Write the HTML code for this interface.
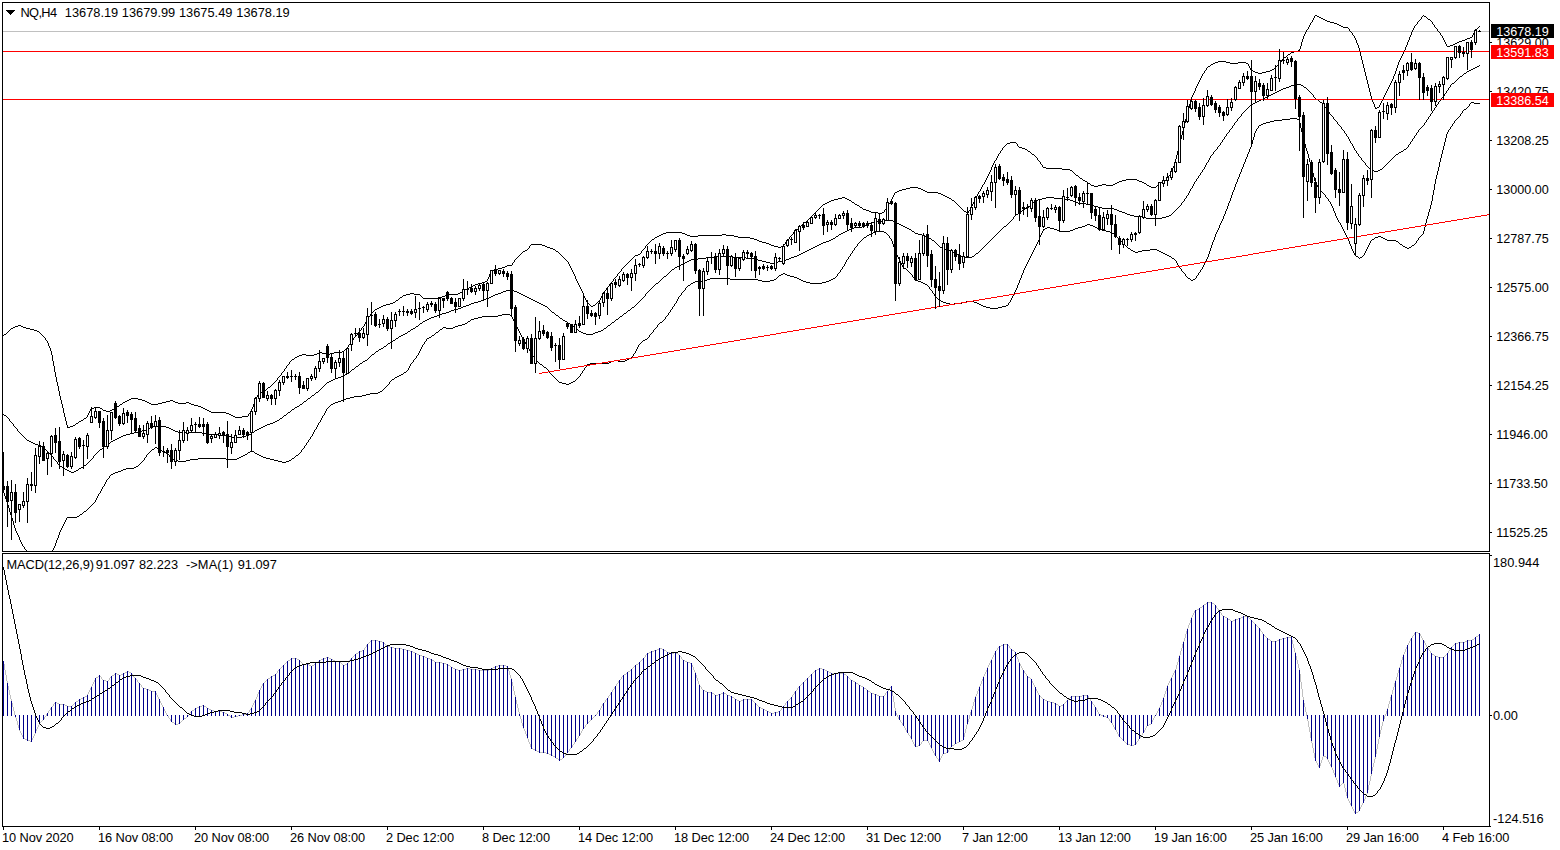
<!DOCTYPE html><html><head><meta charset="utf-8"><title>NQ,H4</title><style>
html,body{margin:0;padding:0;background:#fff;}body{width:1560px;height:850px;overflow:hidden;}
svg{display:block;position:absolute;left:0;top:0;}
text{font-family:"Liberation Sans",sans-serif;font-size:12.8px;fill:#000;}
.w{fill:#fff;}
</style></head><body>
<svg width="1560" height="850" viewBox="0 0 1560 850">
<rect width="1560" height="850" fill="#fff"/>
<g shape-rendering="crispEdges">
<defs><clipPath id="c1"><rect x="3" y="3" width="1486" height="548"/></clipPath><clipPath id="c2"><rect x="3" y="554" width="1486" height="272"/></clipPath></defs>
<g clip-path="url(#c1)">
<rect x="3" y="31" width="1486" height="1" fill="#c0c0c0"/>
<path fill="#000" d="M659 235h2v1h-2zM687 235h3v1h-3zM698 235h24v1h-24zM726 235h8v1h-8zM1251 70h2v1h-2zM1270 70h2v1h-2zM149 403h2v1h-2zM158 403h4v1h-4zM178 403h8v1h-8zM189 403h2v1h-2zM661 234h2v1h-2zM685 234h2v1h-2zM722 234h4v1h-4zM1211 64h2v1h-2zM1213 63h2v1h-2zM1230 63h8v1h-8zM1246 63h2v1h-2zM485 281h2v1h-2zM757 240h2v1h-2zM120 404h2v1h-2zM151 404h7v1h-7zM191 404h3v1h-3zM106 411h4v1h-4zM209 411h2v1h-2zM1459 41h3v1h-3zM262 391h2v1h-2zM831 200h3v1h-3zM849 200h2v1h-2zM952 200h2v1h-2zM545 246h2v1h-2zM774 246h4v1h-4zM781 246h2v1h-2zM381 306h2v1h-2zM591 306h2v1h-2zM375 309h2v1h-2zM938 193h3v1h-3zM1258 73h4v1h-4zM895 192h2v1h-2zM927 192h11v1h-11zM1343 27h5v1h-5zM1334 23h3v1h-3zM638 254h2v1h-2zM827 202h2v1h-2zM852 202h2v1h-2zM902 189h4v1h-4zM921 189h2v1h-2zM762 242h4v1h-4zM125 401h2v1h-2zM145 401h2v1h-2zM166 401h4v1h-4zM173 401h2v1h-2zM1028 151h2v1h-2zM1083 180h2v1h-2zM1122 180h4v1h-4zM1137 180h2v1h-2zM1164 180h2v1h-2zM1447 46h3v1h-3zM302 354h4v1h-4zM314 354h3v1h-3zM326 354h4v1h-4zM1337 24h2v1h-2zM1062 169h8v1h-8zM1088 183h2v1h-2zM1115 183h2v1h-2zM1144 183h2v1h-2zM1159 183h2v1h-2zM1457 42h2v1h-2zM103 410h3v1h-3zM110 410h2v1h-2zM207 410h2v1h-2zM423 298h15v1h-15zM15 326h3v1h-3zM21 326h2v1h-2zM342 351h2v1h-2zM377 308h2v1h-2zM406 294h4v1h-4zM414 294h6v1h-6zM447 294h11v1h-11zM1325 20h2v1h-2zM1070 170h2v1h-2zM666 232h16v1h-16zM871 212h7v1h-7zM882 212h2v1h-2zM1327 21h3v1h-3zM1091 185h3v1h-3zM1098 185h4v1h-4zM1106 185h7v1h-7zM1147 185h2v1h-2zM465 289h2v1h-2zM400 297h2v1h-2zM438 297h4v1h-4zM73 425h2v1h-2zM123 402h2v1h-2zM147 402h2v1h-2zM162 402h4v1h-4zM175 402h3v1h-3zM186 402h3v1h-3zM825 203h2v1h-2zM542 245h3v1h-3zM771 245h3v1h-3zM393 302h2v1h-2zM1046 168h16v1h-16zM319 352h3v1h-3zM334 352h8v1h-8zM18 325h3v1h-3zM460 292h2v1h-2zM866 210h3v1h-3zM112 409h2v1h-2zM205 409h2v1h-2zM1450 45h3v1h-3zM1323 19h2v1h-2zM1428 19h2v1h-2zM299 355h3v1h-3zM306 355h8v1h-8zM478 283h4v1h-4zM507 265h5v1h-5zM910 187h8v1h-8zM1151 187h5v1h-5zM1126 179h11v1h-11zM1019 147h3v1h-3zM403 295h3v1h-3zM445 295h2v1h-2zM1294 51h4v1h-4zM1319 17h2v1h-2zM860 207h2v1h-2zM91 408h3v1h-3zM100 408h2v1h-2zM203 408h2v1h-2zM235 417h7v1h-7zM1321 18h2v1h-2zM547 247h3v1h-3zM778 247h3v1h-3zM838 198h4v1h-4zM845 198h2v1h-2zM949 198h2v1h-2zM491 270h3v1h-3zM553 249h2v1h-2zM1330 22h4v1h-4zM317 353h2v1h-2zM322 353h4v1h-4zM330 353h4v1h-4zM1470 37h2v1h-2zM1315 15h2v1h-2zM383 305h3v1h-3zM593 305h2v1h-2zM1215 62h3v1h-3zM1226 62h4v1h-4zM1238 62h8v1h-8zM1022 148h3v1h-3zM505 266h2v1h-2zM1465 39h2v1h-2zM869 211h2v1h-2zM964 211h2v1h-2zM1341 26h2v1h-2zM471 286h2v1h-2zM906 188h4v1h-4zM918 188h3v1h-3zM494 269h4v1h-4zM37 331h2v1h-2zM1284 57h2v1h-2zM1291 52h3v1h-3zM531 244h11v1h-11zM769 244h2v1h-2zM127 400h2v1h-2zM142 400h3v1h-3zM170 400h3v1h-3zM943 195h2v1h-2zM1043 167h3v1h-3zM211 412h15v1h-15zM1272 69h2v1h-2zM502 267h3v1h-3zM463 290h2v1h-2zM657 236h2v1h-2zM690 236h8v1h-8zM734 236h4v1h-4zM1032 154h2v1h-2zM264 390h2v1h-2zM759 241h3v1h-3zM1094 186h4v1h-4zM1149 186h2v1h-2zM79 421h2v1h-2zM1085 181h2v1h-2zM1119 181h3v1h-3zM1139 181h3v1h-3zM467 288h2v1h-2zM297 356h2v1h-2zM1117 182h2v1h-2zM1142 182h2v1h-2zM1161 182h2v1h-2zM233 416h2v1h-2zM242 416h6v1h-6zM226 413h3v1h-3zM129 399h2v1h-2zM138 399h4v1h-4zM498 268h4v1h-4zM1467 38h3v1h-3zM117 406h2v1h-2zM198 406h3v1h-3zM1255 72h3v1h-3zM1262 72h4v1h-4zM1453 44h2v1h-2zM804 222h2v1h-2zM655 237h2v1h-2zM738 237h12v1h-12zM863 209h3v1h-3zM829 201h2v1h-2zM663 233h3v1h-3zM682 233h3v1h-3zM1339 25h2v1h-2zM1455 43h2v1h-2zM1080 178h2v1h-2zM834 199h4v1h-4zM847 199h2v1h-2zM635 255h3v1h-3zM1102 184h4v1h-4zM1113 184h2v1h-2zM231 415h2v1h-2zM941 194h2v1h-2zM1007 143h3v1h-3zM550 248h3v1h-3zM823 204h2v1h-2zM855 204h2v1h-2zM1218 61h8v1h-8zM442 296h3v1h-3zM70 426h3v1h-3zM1317 16h2v1h-2zM1424 16h2v1h-2zM1208 66h2v1h-2zM1377 107h2v1h-2zM482 282h3v1h-3zM1025 149h2v1h-2zM469 287h2v1h-2zM857 205h2v1h-2zM1298 50h2v1h-2zM268 387h2v1h-2zM842 197h3v1h-3zM947 197h2v1h-2zM1010 142h6v1h-6zM899 190h3v1h-3zM923 190h2v1h-2zM766 243h3v1h-3zM897 191h2v1h-2zM925 191h2v1h-2zM292 359h2v1h-2zM410 293h4v1h-4zM458 293h2v1h-2zM1253 71h2v1h-2zM1266 71h4v1h-4zM4 334h2v1h-2zM229 414h2v1h-2zM84 418h2v1h-2zM1375 108h2v1h-2zM945 196h2v1h-2zM67 427h3v1h-3zM131 398h7v1h-7zM30 329h4v1h-4zM94 407h6v1h-6zM115 407h2v1h-2zM201 407h2v1h-2zM1076 175h2v1h-2zM1462 40h3v1h-3zM13 327h2v1h-2zM23 327h3v1h-3zM525 250h2v1h-2zM878 213h4v1h-4zM194 405h4v1h-4zM386 304h4v1h-4zM796 229h2v1h-2zM475 284h3v1h-3zM76 423h2v1h-2zM523 251h2v1h-2zM556 251h2v1h-2zM390 303h3v1h-3zM379 307h2v1h-2zM34 330h3v1h-3zM396 300h2v1h-2zM259 392h3v1h-3zM1288 54h2v1h-2zM750 238h4v1h-4zM652 239h2v1h-2zM754 239h3v1h-3zM11 328h2v1h-2zM26 328h4v1h-4zM81 420h2v1h-2zM473 285h2v1h-2zM295 357h2v1h-2zM54 366h1v6h-1zM51 351h1v4h-1zM122 403h1v1h-1zM581 289h1v2h-1zM623 267h1v1h-1zM887 206h1v1h-1zM792 234h1v1h-1zM114 408h1v1h-1zM1421 17h1v2h-1zM795 230h1v1h-1zM1177 151h1v4h-1zM1388 87h1v2h-1zM1278 64h1v1h-1zM974 200h1v2h-1zM64 413h1v4h-1zM1190 100h1v4h-1zM1202 74h1v2h-1zM1362 60h1v4h-1zM266 389h1v1h-1zM1169 175h1v1h-1zM1275 67h1v1h-1zM355 336h1v1h-1zM289 362h1v2h-1zM40 333h1v1h-1zM1404 50h1v2h-1zM258 393h1v2h-1zM577 281h1v2h-1zM787 240h1v1h-1zM1302 39h1v3h-1zM994 161h1v2h-1zM1182 131h1v4h-1zM90 409h1v2h-1zM367 319h1v1h-1zM462 291h1v1h-1zM58 386h1v5h-1zM270 386h1v1h-1zM1006 144h1v1h-1zM63 408h1v5h-1zM60 396h1v4h-1zM569 264h1v2h-1zM1473 33h1v2h-1zM529 246h1v2h-1zM1003 147h1v1h-1zM1384 95h1v2h-1zM350 342h1v2h-1zM970 208h1v2h-1zM603 293h1v1h-1zM1396 68h1v3h-1zM1368 84h1v4h-1zM1442 36h1v2h-1zM56 377h1v5h-1zM998 154h1v2h-1zM1369 88h1v4h-1zM363 326h1v1h-1zM86 417h1v1h-1zM641 251h1v2h-1zM610 283h1v1h-1zM1181 135h1v4h-1zM78 422h1v1h-1zM1392 79h1v2h-1zM802 224h1v1h-1zM978 192h1v2h-1zM1395 71h1v3h-1zM1194 91h1v2h-1zM39 332h1v1h-1zM1314 16h1v2h-1zM250 411h1v2h-1zM799 227h1v1h-1zM1383 97h1v2h-1zM580 287h1v2h-1zM599 300h1v1h-1zM1399 60h1v2h-1zM520 254h1v1h-1zM890 201h1v2h-1zM358 332h1v1h-1zM1185 119h1v4h-1zM370 314h1v2h-1zM951 199h1v1h-1zM253 404h1v3h-1zM1017 144h1v2h-1zM562 256h1v1h-1zM1189 104h1v4h-1zM649 242h1v1h-1zM618 273h1v1h-1zM1358 45h1v3h-1zM818 209h1v1h-1zM1476 29h1v1h-1zM1156 186h1v1h-1zM1416 24h1v1h-1zM512 263h1v2h-1zM277 378h1v2h-1zM57 382h1v4h-1zM1310 23h1v2h-1zM1379 105h1v2h-1zM67 425h1v2h-1zM982 185h1v2h-1zM1407 42h1v3h-1zM1301 42h1v4h-1zM886 207h1v2h-1zM646 245h1v1h-1zM1365 72h1v4h-1zM1188 108h1v4h-1zM53 361h1v5h-1zM1173 166h1v2h-1zM1472 35h1v2h-1zM1412 30h1v2h-1zM986 178h1v2h-1zM806 221h1v1h-1zM1361 56h1v4h-1zM489 274h1v3h-1zM1306 30h1v2h-1zM1201 76h1v2h-1zM89 411h1v2h-1zM576 279h1v2h-1zM630 260h1v1h-1zM50 348h1v3h-1zM1371 96h1v3h-1zM1035 156h1v1h-1zM1419 20h1v1h-1zM1430 20h1v1h-1zM346 348h1v1h-1zM1184 123h1v4h-1zM1172 168h1v3h-1zM1036 157h1v1h-1zM1411 32h1v3h-1zM1431 21h1v1h-1zM997 156h1v2h-1zM1200 78h1v2h-1zM1175 159h1v4h-1zM606 288h1v2h-1zM1375 107h1v1h-1zM66 421h1v4h-1zM568 262h1v2h-1zM1394 74h1v2h-1zM59 391h1v5h-1zM1403 52h1v2h-1zM1193 93h1v2h-1zM894 193h1v2h-1zM1168 176h1v2h-1zM1180 139h1v4h-1zM1364 68h1v4h-1zM257 395h1v2h-1zM357 333h1v2h-1zM993 163h1v2h-1zM1196 86h1v2h-1zM366 320h1v2h-1zM958 205h1v1h-1zM1387 89h1v2h-1zM813 214h1v1h-1zM973 202h1v2h-1zM579 285h1v2h-1zM349 344h1v1h-1zM575 276h1v3h-1zM1179 143h1v4h-1zM1176 155h1v4h-1zM597 302h1v1h-1zM1434 25h1v2h-1zM280 375h1v1h-1zM992 165h1v2h-1zM609 284h1v2h-1zM969 210h1v1h-1zM586 300h1v2h-1zM515 259h1v1h-1zM52 355h1v6h-1zM1374 104h1v3h-1zM1357 43h1v2h-1zM1313 18h1v2h-1zM1398 62h1v3h-1zM488 277h1v2h-1zM625 265h1v1h-1zM985 180h1v2h-1zM583 293h1v3h-1zM1360 52h1v4h-1zM1350 31h1v1h-1zM1031 153h1v1h-1zM1277 65h1v1h-1zM617 274h1v2h-1zM1426 17h1v1h-1zM620 271h1v1h-1zM820 207h1v1h-1zM789 237h1v2h-1zM1300 46h1v3h-1zM1204 71h1v2h-1zM578 283h1v2h-1zM272 384h1v1h-1zM1427 18h1v1h-1zM981 187h1v2h-1zM1174 163h1v3h-1zM369 316h1v1h-1zM1005 145h1v1h-1zM3 335h1v1h-1zM645 246h1v2h-1zM1038 160h1v1h-1zM648 243h1v1h-1zM395 301h1v1h-1zM1187 112h1v3h-1zM1072 171h1v1h-1zM1475 30h1v1h-1zM55 372h1v5h-1zM1402 54h1v2h-1zM7 332h1v1h-1zM893 195h1v2h-1zM808 219h1v1h-1zM1000 151h1v2h-1zM1042 165h1v2h-1zM862 208h1v1h-1zM977 194h1v2h-1zM256 397h1v2h-1zM640 253h1v1h-1zM365 322h1v2h-1zM632 258h1v1h-1zM1382 99h1v2h-1zM1027 150h1v1h-1zM801 225h1v1h-1zM1349 29h1v2h-1zM1087 182h1v1h-1zM62 404h1v4h-1zM1183 127h1v4h-1zM348 345h1v2h-1zM1171 171h1v2h-1zM1090 184h1v1h-1zM889 203h1v1h-1zM1410 35h1v2h-1zM996 158h1v2h-1zM1367 80h1v4h-1zM651 240h1v1h-1zM1478 27h1v1h-1zM65 417h1v4h-1zM968 211h1v2h-1zM1370 92h1v4h-1zM1207 67h1v1h-1zM291 360h1v1h-1zM1393 76h1v3h-1zM1418 21h1v1h-1zM1192 95h1v2h-1zM41 334h1v1h-1zM61 400h1v4h-1zM1366 76h1v4h-1zM1432 22h1v2h-1zM399 298h1v1h-1zM1397 65h1v3h-1zM251 409h1v2h-1zM487 279h1v2h-1zM1409 37h1v3h-1zM1037 158h1v2h-1zM563 257h1v1h-1zM1195 88h1v3h-1zM1356 40h1v3h-1zM1386 91h1v2h-1zM1433 24h1v1h-1zM286 366h1v2h-1zM972 204h1v2h-1zM815 212h1v1h-1zM490 272h1v2h-1zM564 258h1v1h-1zM522 252h1v1h-1zM585 298h1v2h-1zM1178 147h1v4h-1zM88 413h1v2h-1zM1191 97h1v3h-1zM854 203h1v1h-1zM1373 102h1v2h-1zM1186 115h1v4h-1zM812 215h1v1h-1zM991 167h1v3h-1zM1363 64h1v4h-1zM1199 80h1v2h-1zM372 312h1v1h-1zM255 399h1v3h-1zM1082 179h1v1h-1zM1359 48h1v4h-1zM892 197h1v2h-1zM984 182h1v2h-1zM999 153h1v1h-1zM596 303h1v1h-1zM514 260h1v2h-1zM574 274h1v2h-1zM279 376h1v1h-1zM608 286h1v1h-1zM48 343h1v3h-1zM1381 101h1v2h-1zM1041 164h1v1h-1zM1279 63h1v1h-1zM643 249h1v1h-1zM1170 173h1v2h-1zM356 335h1v1h-1zM888 204h1v2h-1zM274 382h1v1h-1zM1348 28h1v1h-1zM995 160h1v1h-1zM584 296h1v2h-1zM1203 73h1v1h-1zM267 388h1v1h-1zM616 276h1v1h-1zM1352 33h1v2h-1zM1401 56h1v2h-1zM959 206h1v1h-1zM528 248h1v1h-1zM517 257h1v1h-1zM282 372h1v1h-1zM611 282h1v1h-1zM960 207h1v1h-1zM971 206h1v2h-1zM783 245h1v1h-1zM83 419h1v1h-1zM803 223h1v1h-1zM627 263h1v1h-1zM75 424h1v1h-1zM1040 162h1v2h-1zM573 272h1v2h-1zM624 266h1v1h-1zM87 415h1v2h-1zM1435 27h1v1h-1zM807 220h1v1h-1zM990 170h1v2h-1zM587 302h1v1h-1zM1436 28h1v1h-1zM822 205h1v1h-1zM1206 68h1v2h-1zM359 331h1v1h-1zM619 272h1v1h-1zM1372 99h1v3h-1zM570 266h1v2h-1zM1405 47h1v3h-1zM1417 22h1v2h-1zM791 235h1v1h-1zM102 409h1v1h-1zM1355 38h1v2h-1zM1249 66h1v2h-1zM1078 176h1v1h-1zM1198 82h1v2h-1zM1408 40h1v2h-1zM1309 25h1v2h-1zM1474 31h1v2h-1zM1477 28h1v1h-1zM285 368h1v1h-1zM351 341h1v1h-1zM9 330h1v1h-1zM786 241h1v1h-1zM1380 103h1v2h-1zM810 217h1v1h-1zM558 252h1v1h-1zM1002 148h1v2h-1zM1146 184h1v1h-1zM6 333h1v1h-1zM398 299h1v1h-1zM559 253h1v1h-1zM634 256h1v1h-1zM1446 44h1v2h-1zM1074 173h1v1h-1zM1282 59h1v1h-1zM1039 161h1v1h-1zM1305 32h1v2h-1zM43 336h1v1h-1zM1286 56h1v1h-1zM362 327h1v1h-1zM565 259h1v1h-1zM374 310h1v1h-1zM1400 58h1v2h-1zM254 402h1v2h-1zM47 341h1v2h-1zM891 199h1v2h-1zM966 212h1v1h-1zM566 260h1v1h-1zM1290 53h1v1h-1zM650 241h1v1h-1zM1351 32h1v1h-1zM622 268h1v1h-1zM1157 185h1v1h-1zM1354 36h1v2h-1zM1248 64h1v2h-1zM354 337h1v1h-1zM281 373h1v2h-1zM654 238h1v1h-1zM602 294h1v2h-1zM1210 65h1v1h-1zM1274 68h1v1h-1zM614 278h1v1h-1zM288 364h1v1h-1zM817 210h1v1h-1zM989 172h1v2h-1zM49 346h1v2h-1zM1073 172h1v1h-1zM1391 81h1v2h-1zM42 335h1v1h-1zM642 250h1v1h-1zM814 213h1v1h-1zM1438 31h1v1h-1zM420 295h1v1h-1zM1250 68h1v2h-1zM249 413h1v1h-1zM598 301h1v1h-1zM1420 19h1v1h-1zM347 347h1v1h-1zM519 255h1v1h-1zM1423 15h1v1h-1zM794 231h1v1h-1zM954 201h1v1h-1zM629 261h1v1h-1zM798 228h1v1h-1zM955 202h1v1h-1zM588 303h1v1h-1zM1415 25h1v1h-1zM345 349h1v1h-1zM1312 20h1v2h-1zM516 258h1v1h-1zM1281 60h1v2h-1zM1304 34h1v2h-1zM1197 84h1v2h-1zM859 206h1v1h-1zM1163 181h1v1h-1zM572 270h1v2h-1zM962 209h1v1h-1zM273 383h1v1h-1zM1437 29h1v2h-1zM1445 42h1v2h-1zM1167 178h1v1h-1zM1308 27h1v2h-1zM821 206h1v1h-1zM885 209h1v1h-1zM353 338h1v2h-1zM980 189h1v2h-1zM1205 70h1v1h-1zM601 296h1v2h-1zM613 279h1v2h-1zM284 369h1v2h-1zM1079 177h1v1h-1zM527 249h1v1h-1zM582 291h1v2h-1zM590 305h1v1h-1zM1390 83h1v2h-1zM976 196h1v2h-1zM626 264h1v1h-1zM809 218h1v1h-1zM605 290h1v1h-1zM1001 150h1v1h-1zM361 328h1v2h-1zM364 324h1v2h-1zM276 380h1v1h-1zM119 405h1v1h-1zM1406 45h1v2h-1zM961 208h1v1h-1zM248 414h1v2h-1zM621 269h1v2h-1zM1479 26h1v1h-1zM793 232h1v2h-1zM571 268h1v2h-1zM1016 143h1v1h-1zM45 338h1v2h-1zM561 255h1v1h-1zM790 236h1v1h-1zM1444 40h1v2h-1zM46 340h1v1h-1zM1276 66h1v1h-1zM252 407h1v2h-1zM785 242h1v2h-1zM1414 26h1v2h-1zM988 174h1v2h-1zM788 239h1v1h-1zM1353 35h1v1h-1zM8 331h1v1h-1zM589 304h1v1h-1zM1004 146h1v1h-1zM530 245h1v1h-1zM1385 93h1v2h-1zM644 248h1v1h-1zM633 257h1v1h-1zM851 201h1v1h-1zM1034 155h1v1h-1zM373 311h1v1h-1zM800 226h1v1h-1zM1075 174h1v1h-1zM1303 36h1v3h-1zM44 337h1v1h-1zM368 317h1v2h-1zM1440 33h1v2h-1zM271 385h1v1h-1zM1441 35h1v1h-1zM975 198h1v2h-1zM819 208h1v1h-1zM604 291h1v2h-1zM287 365h1v1h-1zM816 211h1v1h-1zM491 271h1v1h-1zM884 210h1v2h-1zM957 204h1v1h-1zM560 254h1v1h-1zM402 296h1v1h-1zM600 298h1v2h-1zM521 253h1v1h-1zM1413 28h1v2h-1zM987 176h1v2h-1zM1443 38h1v2h-1zM1422 16h1v1h-1zM352 340h1v1h-1zM1389 85h1v2h-1zM628 262h1v1h-1zM1299 49h1v1h-1zM1439 32h1v1h-1zM421 296h1v1h-1zM967 213h1v1h-1zM567 261h1v1h-1zM518 256h1v1h-1zM290 361h1v1h-1zM344 350h1v1h-1zM422 297h1v1h-1zM371 313h1v1h-1zM1280 62h1v1h-1zM983 184h1v1h-1zM294 358h1v1h-1zM1283 58h1v1h-1zM647 244h1v1h-1zM513 262h1v1h-1zM275 381h1v1h-1zM956 203h1v1h-1zM1030 152h1v1h-1zM360 330h1v1h-1zM1166 179h1v1h-1zM631 259h1v1h-1zM1158 184h1v1h-1zM979 191h1v1h-1zM10 329h1v1h-1zM811 216h1v1h-1zM963 210h1v1h-1zM1018 146h1v1h-1zM1307 29h1v1h-1zM283 371h1v1h-1zM612 281h1v1h-1zM615 277h1v1h-1zM784 244h1v1h-1zM555 250h1v1h-1zM595 304h1v1h-1zM278 377h1v1h-1zM607 287h1v1h-1zM1311 22h1v1h-1zM1287 55h1v1h-1z"/>
<path fill="#000" d="M29 441h2v1h-2zM111 441h2v1h-2zM1371 170h3v1h-3zM1378 170h2v1h-2zM119 437h2v1h-2zM231 437h11v1h-11zM501 292h2v1h-2zM517 292h2v1h-2zM1257 101h2v1h-2zM685 262h2v1h-2zM766 262h4v1h-4zM774 262h4v1h-4zM839 234h2v1h-2zM918 234h4v1h-4zM469 304h2v1h-2zM541 304h2v1h-2zM1028 206h2v1h-2zM1094 206h4v1h-4zM1255 102h2v1h-2zM1320 102h2v1h-2zM495 294h3v1h-3zM521 294h2v1h-2zM4 415h2v1h-2zM284 415h2v1h-2zM427 319h2v1h-2zM616 319h2v1h-2zM874 221h8v1h-8zM893 221h2v1h-2zM151 426h15v1h-15zM263 426h2v1h-2zM454 309h4v1h-4zM1125 213h2v1h-2zM126 434h4v1h-4zM206 434h12v1h-12zM249 434h2v1h-2zM423 321h2v1h-2zM565 321h2v1h-2zM1098 207h4v1h-4zM813 247h2v1h-2zM940 247h2v1h-2zM831 239h2v1h-2zM1374 171h4v1h-4zM922 235h3v1h-3zM811 248h2v1h-2zM854 227h8v1h-8zM905 227h2v1h-2zM506 290h8v1h-8zM1396 154h2v1h-2zM809 249h2v1h-2zM943 249h3v1h-3zM1142 217h4v1h-4zM1162 217h4v1h-4zM267 424h3v1h-3zM714 256h16v1h-16zM794 256h3v1h-3zM961 256h2v1h-2zM972 256h2v1h-2zM847 230h2v1h-2zM1046 197h8v1h-8zM1265 97h2v1h-2zM292 409h2v1h-2zM498 293h3v1h-3zM519 293h2v1h-2zM411 329h2v1h-2zM576 329h2v1h-2zM1130 215h4v1h-4zM1169 215h2v1h-2zM683 263h2v1h-2zM770 263h4v1h-4zM1263 98h2v1h-2zM1294 84h7v1h-7zM851 228h3v1h-3zM907 228h2v1h-2zM675 267h2v1h-2zM356 366h2v1h-2zM1075 202h3v1h-3zM1038 199h4v1h-4zM1062 199h8v1h-8zM413 328h2v1h-2zM604 328h2v1h-2zM867 224h2v1h-2zM899 224h2v1h-2zM689 260h2v1h-2zM758 260h4v1h-4zM782 260h4v1h-4zM503 291h3v1h-3zM514 291h3v1h-3zM1283 88h3v1h-3zM803 252h2v1h-2zM953 252h2v1h-2zM1469 70h2v1h-2zM819 244h2v1h-2zM1134 216h8v1h-8zM1166 216h3v1h-3zM277 420h2v1h-2zM817 245h2v1h-2zM60 466h2v1h-2zM316 392h2v1h-2zM391 341h2v1h-2zM134 432h4v1h-4zM178 432h24v1h-24zM252 432h2v1h-2zM341 376h2v1h-2zM403 334h2v1h-2zM586 334h7v1h-7zM148 428h2v1h-2zM169 428h2v1h-2zM259 428h2v1h-2zM121 436h2v1h-2zM229 436h2v1h-2zM242 436h4v1h-4zM801 253h2v1h-2zM955 253h2v1h-2zM976 253h2v1h-2zM434 316h3v1h-3zM620 316h2v1h-2zM687 261h2v1h-2zM762 261h4v1h-4zM778 261h4v1h-4zM1035 200h3v1h-3zM1070 200h3v1h-3zM142 430h4v1h-4zM173 430h2v1h-2zM255 430h2v1h-2zM612 322h2v1h-2zM698 258h8v1h-8zM746 258h8v1h-8zM789 258h2v1h-2zM1286 87h3v1h-3zM1304 87h2v1h-2zM1020 211h2v1h-2zM1119 211h3v1h-3zM1404 149h2v1h-2zM1289 86h2v1h-2zM1253 103h2v1h-2zM372 354h2v1h-2zM275 421h2v1h-2zM1025 208h2v1h-2zM1102 208h12v1h-12zM446 312h3v1h-3zM552 312h2v1h-2zM115 439h2v1h-2zM474 302h4v1h-4zM537 302h2v1h-2zM27 440h2v1h-2zM113 440h2v1h-2zM797 255h2v1h-2zM959 255h2v1h-2zM1267 96h2v1h-2zM1146 218h16v1h-16zM821 243h2v1h-2zM463 306h3v1h-3zM545 306h2v1h-2zM706 257h8v1h-8zM730 257h16v1h-16zM791 257h3v1h-3zM963 257h9v1h-9zM1122 212h3v1h-3zM1477 66h2v1h-2zM300 404h2v1h-2zM841 233h2v1h-2zM915 233h3v1h-3zM481 300h2v1h-2zM533 300h2v1h-2zM927 237h2v1h-2zM1042 198h4v1h-4zM1054 198h8v1h-8zM273 422h2v1h-2zM1273 93h2v1h-2zM833 238h2v1h-2zM929 238h2v1h-2zM429 318h2v1h-2zM560 318h2v1h-2zM138 431h4v1h-4zM175 431h3v1h-3zM466 305h3v1h-3zM543 305h2v1h-2zM1460 76h2v1h-2zM1086 204h4v1h-4zM308 398h2v1h-2zM1073 201h2v1h-2zM146 429h2v1h-2zM171 429h2v1h-2zM257 429h2v1h-2zM882 220h11v1h-11zM100 449h2v1h-2zM805 251h2v1h-2zM950 251h3v1h-3zM489 297h2v1h-2zM527 297h2v1h-2zM71 472h3v1h-3zM65 469h2v1h-2zM67 470h2v1h-2zM76 470h2v1h-2zM33 443h2v1h-2zM108 443h2v1h-2zM408 331h2v1h-2zM579 331h2v1h-2zM598 331h3v1h-3zM123 435h3v1h-3zM218 435h11v1h-11zM246 435h3v1h-3zM672 269h2v1h-2zM1117 210h2v1h-2zM483 299h3v1h-3zM531 299h2v1h-2zM1281 89h2v1h-2zM601 330h2v1h-2zM1471 69h2v1h-2zM691 259h7v1h-7zM754 259h4v1h-4zM786 259h3v1h-3zM862 226h3v1h-3zM903 226h2v1h-2zM1004 226h2v1h-2zM388 343h2v1h-2zM845 231h2v1h-2zM912 231h2v1h-2zM826 241h3v1h-3zM486 298h3v1h-3zM529 298h2v1h-2zM461 307h2v1h-2zM632 307h2v1h-2zM63 468h2v1h-2zM79 468h2v1h-2zM865 225h2v1h-2zM901 225h2v1h-2zM338 377h3v1h-3zM478 301h3v1h-3zM535 301h2v1h-2zM1261 99h2v1h-2zM1316 99h2v1h-2zM363 361h2v1h-2zM799 254h2v1h-2zM957 254h2v1h-2zM1259 100h2v1h-2zM431 317h3v1h-3zM420 323h2v1h-2zM568 323h2v1h-2zM166 427h3v1h-3zM261 427h2v1h-2zM329 381h2v1h-2zM1251 104h2v1h-2zM869 223h2v1h-2zM897 223h2v1h-2zM1275 92h2v1h-2zM1271 94h2v1h-2zM379 349h2v1h-2zM84 465h2v1h-2zM265 425h2v1h-2zM1291 85h3v1h-3zM1301 85h2v1h-2zM381 348h2v1h-2zM405 333h2v1h-2zM583 333h3v1h-3zM593 333h2v1h-2zM849 229h2v1h-2zM909 229h2v1h-2zM1380 169h2v1h-2zM442 313h4v1h-4zM624 313h2v1h-2zM1277 91h2v1h-2zM829 240h2v1h-2zM932 240h2v1h-2zM1467 71h2v1h-2zM1090 205h4v1h-4zM288 412h2v1h-2zM581 332h2v1h-2zM595 332h3v1h-3zM130 433h4v1h-4zM202 433h4v1h-4zM807 250h2v1h-2zM946 250h4v1h-4zM69 471h2v1h-2zM74 471h2v1h-2zM437 315h2v1h-2zM556 315h2v1h-2zM608 325h2v1h-2zM399 336h2v1h-2zM1016 214h2v1h-2zM1127 214h3v1h-3zM117 438h2v1h-2zM1399 152h2v1h-2zM1279 90h2v1h-2zM681 264h2v1h-2zM449 311h2v1h-2zM1023 209h2v1h-2zM1114 209h3v1h-3zM280 418h2v1h-2zM843 232h2v1h-2zM1078 203h8v1h-8zM31 442h2v1h-2zM836 236h2v1h-2zM925 236h2v1h-2zM664 276h2v1h-2zM312 395h2v1h-2zM81 467h2v1h-2zM1401 151h2v1h-2zM815 246h2v1h-2zM365 360h2v1h-2zM1452 83h2v1h-2zM396 338h2v1h-2zM295 407h2v1h-2zM656 283h2v1h-2zM425 320h2v1h-2zM563 320h2v1h-2zM41 446h2v1h-2zM104 446h2v1h-2zM348 372h2v1h-2zM270 423h3v1h-3zM35 444h3v1h-3zM493 295h2v1h-2zM523 295h2v1h-2zM471 303h3v1h-3zM539 303h2v1h-2zM304 401h2v1h-2zM491 296h2v1h-2zM525 296h2v1h-2zM439 314h3v1h-3zM335 378h3v1h-3zM416 326h2v1h-2zM572 326h2v1h-2zM451 310h3v1h-3zM628 310h2v1h-2zM38 445h3v1h-3zM393 340h2v1h-2zM1269 95h2v1h-2zM679 265h2v1h-2zM297 406h2v1h-2zM345 374h2v1h-2zM458 308h3v1h-3zM401 335h2v1h-2zM871 222h3v1h-3zM895 222h2v1h-2zM1473 68h2v1h-2zM1475 67h2v1h-2zM376 351h2v1h-2zM333 379h2v1h-2zM352 369h2v1h-2zM360 363h2v1h-2zM384 346h2v1h-2zM327 382h2v1h-2zM1464 73h2v1h-2zM823 242h3v1h-3zM677 266h2v1h-2zM343 375h2v1h-2zM331 380h2v1h-2zM549 309h1v1h-1zM1012 219h1v1h-1zM1192 186h1v2h-1zM550 310h1v1h-1zM660 280h1v1h-1zM1386 164h1v1h-1zM606 327h1v1h-1zM51 455h1v1h-1zM1429 116h1v1h-1zM1319 101h1v1h-1zM1348 137h1v2h-1zM996 234h1v1h-1zM610 324h1v1h-1zM1179 206h1v1h-1zM311 396h1v1h-1zM1247 108h1v1h-1zM315 393h1v1h-1zM347 373h1v1h-1zM1326 108h1v2h-1zM370 356h1v1h-1zM645 294h1v2h-1zM25 438h1v1h-1zM648 291h1v1h-1zM93 456h1v2h-1zM319 390h1v1h-1zM984 246h1v1h-1zM407 332h1v1h-1zM1034 201h1v1h-1zM17 429h1v2h-1zM419 324h1v1h-1zM1337 122h1v2h-1zM1393 157h1v1h-1zM1027 207h1v1h-1zM1239 117h1v1h-1zM931 239h1v1h-1zM942 248h1v1h-1zM1432 111h1v2h-1zM1003 227h1v1h-1zM614 321h1v1h-1zM1417 132h1v1h-1zM1363 161h1v1h-1zM1441 98h1v2h-1zM1444 94h1v2h-1zM1210 156h1v2h-1zM24 437h1v1h-1zM3 414h1v1h-1zM1199 175h1v1h-1zM1222 140h1v2h-1zM322 387h1v1h-1zM1412 139h1v2h-1zM1234 123h1v2h-1zM1329 112h1v2h-1zM1308 90h1v1h-1zM1436 105h1v2h-1zM1370 169h1v1h-1zM1439 101h1v1h-1zM1191 188h1v1h-1zM1000 230h1v1h-1zM578 330h1v1h-1zM1448 88h1v2h-1zM1330 114h1v1h-1zM1314 97h1v1h-1zM1451 84h1v1h-1zM991 239h1v1h-1zM1206 163h1v2h-1zM1015 215h1v1h-1zM10 421h1v1h-1zM1315 98h1v1h-1zM1245 110h1v1h-1zM395 339h1v1h-1zM1019 212h1v1h-1zM1195 181h1v1h-1zM1242 113h1v1h-1zM671 270h1v1h-1zM1408 145h1v2h-1zM88 462h1v1h-1zM1187 195h1v1h-1zM1031 204h1v1h-1zM988 242h1v1h-1zM47 451h1v1h-1zM1341 127h1v2h-1zM640 300h1v1h-1zM1202 170h1v2h-1zM1362 160h1v1h-1zM1182 202h1v1h-1zM979 251h1v1h-1zM1307 89h1v1h-1zM54 459h1v1h-1zM1007 224h1v1h-1zM1388 162h1v1h-1zM1455 81h1v1h-1zM937 244h1v1h-1zM9 419h1v2h-1zM326 383h1v1h-1zM938 245h1v1h-1zM368 358h1v1h-1zM1174 211h1v1h-1zM1479 65h1v1h-1zM1428 117h1v2h-1zM302 403h1v1h-1zM294 408h1v1h-1zM1171 214h1v1h-1zM1218 146h1v1h-1zM1198 176h1v2h-1zM306 400h1v1h-1zM1411 141h1v1h-1zM1230 129h1v1h-1zM995 235h1v1h-1zM1233 125h1v1h-1zM1420 128h1v1h-1zM150 427h1v1h-1zM1340 126h1v1h-1zM555 314h1v1h-1zM279 419h1v1h-1zM1361 158h1v2h-1zM574 327h1v1h-1zM1435 107h1v1h-1zM310 397h1v1h-1zM1213 152h1v2h-1zM1447 90h1v1h-1zM1205 165h1v2h-1zM251 433h1v1h-1zM666 275h1v1h-1zM655 284h1v1h-1zM627 311h1v1h-1zM983 247h1v1h-1zM1328 111h1v1h-1zM1241 114h1v2h-1zM1466 72h1v1h-1zM659 281h1v1h-1zM1209 158h1v2h-1zM998 232h1v1h-1zM1221 142h1v1h-1zM46 450h1v1h-1zM1181 203h1v2h-1zM1339 125h1v1h-1zM19 432h1v1h-1zM1249 106h1v1h-1zM102 448h1v1h-1zM1459 77h1v1h-1zM1303 86h1v1h-1zM551 311h1v1h-1zM570 324h1v1h-1zM1383 167h1v1h-1zM835 237h1v1h-1zM1354 148h1v2h-1zM1450 85h1v2h-1zM20 433h1v1h-1zM106 445h1v1h-1zM283 416h1v1h-1zM95 454h1v1h-1zM1188 193h1v2h-1zM1365 163h1v2h-1zM986 244h1v1h-1zM53 457h1v2h-1zM26 439h1v1h-1zM57 462h1v2h-1zM90 460h1v1h-1zM8 418h1v1h-1zM1033 202h1v1h-1zM1403 150h1v1h-1zM631 308h1v1h-1zM1395 155h1v1h-1zM410 330h1v1h-1zM1014 216h1v1h-1zM1184 199h1v2h-1zM1217 147h1v2h-1zM635 305h1v1h-1zM83 466h1v1h-1zM1407 147h1v1h-1zM1229 130h1v2h-1zM914 232h1v1h-1zM670 271h1v1h-1zM1431 113h1v1h-1zM87 463h1v1h-1zM1224 137h1v2h-1zM974 255h1v1h-1zM1009 222h1v1h-1zM1443 96h1v1h-1zM1212 154h1v1h-1zM1236 121h1v1h-1zM650 289h1v1h-1zM1201 172h1v1h-1zM321 388h1v1h-1zM978 252h1v1h-1zM1414 136h1v2h-1zM1342 129h1v1h-1zM1350 141h1v2h-1zM1002 228h1v1h-1zM110 442h1v1h-1zM1438 102h1v2h-1zM1343 130h1v1h-1zM993 237h1v1h-1zM1364 162h1v1h-1zM603 329h1v1h-1zM351 370h1v1h-1zM1208 160h1v2h-1zM374 353h1v1h-1zM1244 111h1v1h-1zM1454 82h1v1h-1zM1309 91h1v1h-1zM56 461h1v1h-1zM1410 142h1v2h-1zM355 367h1v1h-1zM386 345h1v1h-1zM418 325h1v1h-1zM1422 126h1v1h-1zM1425 122h1v1h-1zM990 240h1v1h-1zM1331 115h1v1h-1zM378 350h1v1h-1zM367 359h1v1h-1zM398 337h1v1h-1zM1434 108h1v2h-1zM642 298h1v1h-1zM359 364h1v1h-1zM390 342h1v1h-1zM981 249h1v1h-1zM1446 91h1v2h-1zM11 422h1v1h-1zM1332 116h1v1h-1zM1204 167h1v2h-1zM562 319h1v1h-1zM618 318h1v1h-1zM1390 160h1v1h-1zM1346 134h1v2h-1zM1176 209h1v1h-1zM1457 79h1v1h-1zM55 460h1v1h-1zM661 279h1v1h-1zM622 315h1v1h-1zM607 326h1v1h-1zM654 285h1v1h-1zM1173 212h1v1h-1zM1220 143h1v2h-1zM1232 126h1v2h-1zM997 233h1v1h-1zM1200 173h1v2h-1zM97 452h1v1h-1zM1413 138h1v1h-1zM1215 150h1v1h-1zM1227 133h1v1h-1zM48 452h1v1h-1zM668 273h1v1h-1zM1353 146h1v2h-1zM985 245h1v1h-1zM637 303h1v1h-1zM1349 139h1v2h-1zM575 328h1v1h-1zM626 312h1v1h-1zM254 431h1v1h-1zM22 435h1v1h-1zM1367 166h1v1h-1zM89 461h1v1h-1zM630 309h1v1h-1zM1180 205h1v1h-1zM323 386h1v1h-1zM1333 117h1v2h-1zM1385 165h1v1h-1zM939 246h1v1h-1zM62 467h1v1h-1zM1334 119h1v1h-1zM1008 223h1v1h-1zM14 426h1v1h-1zM1356 151h1v2h-1zM649 290h1v1h-1zM1437 104h1v1h-1zM1246 109h1v1h-1zM1449 87h1v1h-1zM92 458h1v1h-1zM314 394h1v1h-1zM1352 144h1v2h-1zM992 238h1v1h-1zM21 434h1v1h-1zM369 357h1v1h-1zM644 296h1v1h-1zM1345 133h1v1h-1zM1366 165h1v1h-1zM350 371h1v1h-1zM1183 201h1v1h-1zM1409 144h1v1h-1zM1011 220h1v1h-1zM1421 127h1v1h-1zM1223 139h1v1h-1zM652 287h1v1h-1zM1226 134h1v2h-1zM1392 158h1v1h-1zM1416 133h1v2h-1zM1235 122h1v1h-1zM980 250h1v1h-1zM1238 118h1v1h-1zM1382 168h1v1h-1zM1440 100h1v1h-1zM1463 74h1v1h-1zM571 325h1v1h-1zM1344 131h1v2h-1zM1355 150h1v1h-1zM1175 210h1v1h-1zM287 413h1v1h-1zM1456 80h1v1h-1zM999 231h1v1h-1zM299 405h1v1h-1zM1359 156h1v1h-1zM1424 123h1v2h-1zM291 410h1v1h-1zM354 368h1v1h-1zM58 464h1v1h-1zM303 402h1v1h-1zM1322 103h1v1h-1zM1194 182h1v2h-1zM1250 105h1v1h-1zM1186 196h1v2h-1zM1018 213h1v1h-1zM13 424h1v2h-1zM1030 205h1v1h-1zM43 447h1v1h-1zM987 243h1v1h-1zM1178 207h1v1h-1zM674 268h1v1h-1zM1211 155h1v1h-1zM1214 151h1v1h-1zM663 277h1v1h-1zM1190 189h1v2h-1zM1389 161h1v1h-1zM1358 154h1v2h-1zM667 274h1v1h-1zM1351 143h1v1h-1zM1006 225h1v1h-1zM647 292h1v1h-1zM318 391h1v1h-1zM1347 136h1v1h-1zM99 450h1v1h-1zM934 241h1v1h-1zM1310 92h1v1h-1zM1022 210h1v1h-1zM422 322h1v1h-1zM6 416h1v1h-1zM567 322h1v1h-1zM1311 93h1v1h-1zM911 230h1v1h-1zM548 308h1v1h-1zM12 423h1v1h-1zM1419 129h1v1h-1zM639 301h1v1h-1zM415 327h1v1h-1zM636 304h1v1h-1zM1318 100h1v1h-1zM49 453h1v1h-1zM1013 217h1v2h-1zM1193 184h1v2h-1zM325 384h1v1h-1zM50 454h1v1h-1zM611 323h1v1h-1zM1237 119h1v2h-1zM1387 163h1v1h-1zM1427 119h1v1h-1zM1430 114h1v2h-1zM103 447h1v1h-1zM658 282h1v1h-1zM23 436h1v1h-1zM1384 166h1v1h-1zM615 320h1v1h-1zM975 254h1v1h-1zM1197 178h1v1h-1zM1368 167h1v1h-1zM1325 107h1v1h-1zM107 444h1v1h-1zM96 453h1v1h-1zM651 288h1v1h-1zM1189 191h1v2h-1zM547 307h1v1h-1zM1369 168h1v1h-1zM558 316h1v1h-1zM1248 107h1v1h-1zM994 236h1v1h-1zM559 317h1v1h-1zM371 355h1v1h-1zM282 417h1v1h-1zM1335 120h1v1h-1zM91 459h1v1h-1zM94 455h1v1h-1zM838 235h1v1h-1zM383 347h1v1h-1zM1336 121h1v1h-1zM286 414h1v1h-1zM1357 153h1v1h-1zM16 428h1v1h-1zM1423 125h1v1h-1zM1394 156h1v1h-1zM1010 221h1v1h-1zM982 248h1v1h-1zM634 306h1v1h-1zM1406 148h1v1h-1zM619 317h1v1h-1zM1225 136h1v1h-1zM1324 105h1v2h-1zM1415 135h1v1h-1zM1418 130h1v2h-1zM1313 95h1v2h-1zM623 314h1v1h-1zM1442 97h1v1h-1zM1177 208h1v1h-1zM320 389h1v1h-1zM1458 78h1v1h-1zM15 427h1v1h-1zM1001 229h1v1h-1zM375 352h1v1h-1zM387 344h1v1h-1zM1426 120h1v2h-1zM290 411h1v1h-1zM643 297h1v1h-1zM646 293h1v1h-1zM1216 149h1v1h-1zM1240 116h1v1h-1zM1196 179h1v2h-1zM1243 112h1v1h-1zM1185 198h1v1h-1zM1398 153h1v1h-1zM1032 203h1v1h-1zM1306 88h1v1h-1zM554 313h1v1h-1zM989 241h1v1h-1zM669 272h1v1h-1zM86 464h1v1h-1zM641 299h1v1h-1zM78 469h1v1h-1zM59 465h1v1h-1zM1391 159h1v1h-1zM1323 104h1v1h-1zM662 278h1v1h-1zM1312 94h1v1h-1zM1462 75h1v1h-1zM44 448h1v1h-1zM45 449h1v1h-1zM1338 124h1v1h-1zM18 431h1v1h-1zM98 451h1v1h-1zM653 286h1v1h-1zM324 385h1v1h-1zM1360 157h1v1h-1zM1207 162h1v1h-1zM1172 213h1v1h-1zM1219 145h1v1h-1zM358 365h1v1h-1zM1228 132h1v1h-1zM307 399h1v1h-1zM1231 128h1v1h-1zM52 456h1v1h-1zM362 362h1v1h-1zM1433 110h1v1h-1zM935 242h1v1h-1zM1327 110h1v1h-1zM1445 93h1v1h-1zM638 302h1v1h-1zM936 243h1v1h-1zM1203 169h1v1h-1zM7 417h1v1h-1z"/>
<path fill="#000" d="M1405 247h2v1h-2zM1409 247h2v1h-2zM1047 227h3v1h-3zM1078 227h4v1h-4zM1095 227h2v1h-2zM1082 226h3v1h-3zM1093 226h2v1h-2zM1045 228h2v1h-2zM1050 228h4v1h-4zM1075 228h3v1h-3zM1097 228h2v1h-2zM1387 240h9v1h-9zM354 396h8v1h-8zM241 456h2v1h-2zM261 456h2v1h-2zM540 364h2v1h-2zM587 364h3v1h-3zM790 276h4v1h-4zM875 231h9v1h-9zM1059 231h11v1h-11zM1106 231h4v1h-4zM869 234h2v1h-2zM925 284h2v1h-2zM84 511h2v1h-2zM173 459h2v1h-2zM190 459h8v1h-8zM226 459h11v1h-11zM270 459h4v1h-4zM710 278h20v1h-20zM797 278h2v1h-2zM833 278h2v1h-2zM1188 278h2v1h-2zM178 461h8v1h-8zM278 461h4v1h-4zM286 461h3v1h-3zM1474 103h6v1h-6zM502 314h8v1h-8zM943 302h3v1h-3zM962 302h4v1h-4zM974 302h3v1h-3zM1131 250h2v1h-2zM1142 250h8v1h-8zM1157 250h2v1h-2zM462 324h3v1h-3zM695 281h10v1h-10zM762 281h8v1h-8zM803 281h3v1h-3zM826 281h3v1h-3zM918 281h3v1h-3zM465 323h2v1h-2zM175 460h3v1h-3zM186 460h4v1h-4zM274 460h4v1h-4zM289 460h2v1h-2zM27 552h3v1h-3zM629 358h2v1h-2zM458 325h4v1h-4zM707 279h3v1h-3zM730 279h28v1h-28zM774 279h2v1h-2zM799 279h2v1h-2zM831 279h2v1h-2zM1193 279h2v1h-2zM163 452h3v1h-3zM248 452h2v1h-2zM614 360h4v1h-4zM625 360h2v1h-2zM781 274h2v1h-2zM785 274h2v1h-2zM446 328h7v1h-7zM126 468h8v1h-8zM1135 252h3v1h-3zM1161 252h2v1h-2zM1167 255h2v1h-2zM440 329h2v1h-2zM245 454h2v1h-2zM257 454h2v1h-2zM1169 256h2v1h-2zM1356 256h2v1h-2zM171 458h2v1h-2zM198 458h28v1h-28zM237 458h2v1h-2zM266 458h4v1h-4zM292 458h2v1h-2zM590 363h19v1h-19zM1163 253h2v1h-2zM1087 224h3v1h-3zM950 304h4v1h-4zM979 304h2v1h-2zM643 340h2v1h-2zM239 457h2v1h-2zM263 457h3v1h-3zM482 316h16v1h-16zM166 453h2v1h-2zM255 453h2v1h-2zM1150 249h7v1h-7zM562 383h4v1h-4zM569 383h2v1h-2zM455 326h3v1h-3zM243 455h2v1h-2zM259 455h2v1h-2zM296 455h2v1h-2zM611 361h3v1h-3zM618 361h7v1h-7zM544 367h2v1h-2zM705 280h2v1h-2zM758 280h4v1h-4zM770 280h4v1h-4zM801 280h2v1h-2zM829 280h2v1h-2zM915 280h3v1h-3zM1191 280h2v1h-2zM660 322h2v1h-2zM1270 121h4v1h-4zM981 305h2v1h-2zM1006 305h2v1h-2zM941 301h2v1h-2zM966 301h8v1h-8zM471 319h3v1h-3zM343 399h3v1h-3zM691 283h2v1h-2zM810 283h12v1h-12zM923 283h2v1h-2zM378 392h2v1h-2zM443 327h3v1h-3zM453 327h2v1h-2zM1172 258h2v1h-2zM1085 225h2v1h-2zM1090 225h3v1h-3zM370 393h8v1h-8zM429 337h2v1h-2zM1266 122h4v1h-4zM282 462h4v1h-4zM986 307h4v1h-4zM998 307h4v1h-4zM160 450h2v1h-2zM474 318h4v1h-4zM404 372h2v1h-2zM1400 244h2v1h-2zM1263 123h3v1h-3zM395 377h2v1h-2zM1133 251h2v1h-2zM1138 251h4v1h-4zM1159 251h2v1h-2zM111 474h2v1h-2zM77 516h2v1h-2zM432 335h2v1h-2zM335 402h3v1h-3zM871 233h2v1h-2zM1112 233h2v1h-2zM1464 109h2v1h-2zM331 404h2v1h-2zM779 275h2v1h-2zM787 275h3v1h-3zM392 379h2v1h-2zM30 553h22v1h-22zM1471 102h3v1h-3zM1259 125h2v1h-2zM946 303h4v1h-4zM954 303h8v1h-8zM977 303h2v1h-2zM1128 248h2v1h-2zM1407 248h2v1h-2zM1412 245h2v1h-2zM1403 246h2v1h-2zM1165 254h2v1h-2zM867 235h2v1h-2zM498 315h4v1h-4zM510 315h2v1h-2zM333 403h2v1h-2zM427 338h2v1h-2zM688 285h2v1h-2zM1274 120h8v1h-8zM573 381h2v1h-2zM693 282h2v1h-2zM806 282h4v1h-4zM822 282h4v1h-4zM921 282h2v1h-2zM350 397h4v1h-4zM1372 239h2v1h-2zM1385 239h2v1h-2zM468 321h2v1h-2zM121 470h2v1h-2zM1043 229h2v1h-2zM1054 229h3v1h-3zM1073 229h2v1h-2zM1099 229h3v1h-3zM794 277h3v1h-3zM67 517h10v1h-10zM478 317h4v1h-4zM1378 236h3v1h-3zM1290 118h7v1h-7zM1360 257h2v1h-2zM380 391h2v1h-2zM1383 238h2v1h-2zM904 268h2v1h-2zM252 451h2v1h-2zM939 300h2v1h-2zM609 362h2v1h-2zM1261 124h2v1h-2zM1057 230h2v1h-2zM1070 230h3v1h-3zM1102 230h4v1h-4zM1396 241h2v1h-2zM399 375h2v1h-2zM115 472h3v1h-3zM627 359h2v1h-2zM566 384h3v1h-3zM873 232h2v1h-2zM884 232h2v1h-2zM1110 232h2v1h-2zM401 374h2v1h-2zM341 400h2v1h-2zM118 471h3v1h-3zM366 394h4v1h-4zM645 339h2v1h-2zM152 449h2v1h-2zM864 237h2v1h-2zM1375 237h3v1h-3zM1381 237h2v1h-2zM1282 119h8v1h-8zM1297 119h2v1h-2zM436 332h2v1h-2zM990 308h8v1h-8zM362 395h4v1h-4zM338 401h3v1h-3zM559 382h3v1h-3zM571 382h2v1h-2zM397 376h2v1h-2zM113 473h2v1h-2zM80 514h2v1h-2zM136 466h2v1h-2zM783 273h2v1h-2zM123 469h3v1h-3zM983 306h3v1h-3zM1002 306h4v1h-4zM157 448h2v1h-2zM134 467h2v1h-2zM346 398h4v1h-4zM155 447h2v1h-2zM683 291h1v1h-1zM1431 201h1v4h-1zM686 287h1v1h-1zM22 544h1v2h-1zM526 344h1v2h-1zM1200 270h1v2h-1zM1467 107h1v1h-1zM100 491h1v2h-1zM1346 235h1v2h-1zM1021 275h1v3h-1zM1212 242h1v3h-1zM291 459h1v1h-1zM1435 179h1v5h-1zM1221 221h1v2h-1zM847 259h1v1h-1zM1246 157h1v2h-1zM57 538h1v2h-1zM856 246h1v1h-1zM1448 130h1v2h-1zM859 242h1v1h-1zM1303 137h1v4h-1zM1451 126h1v1h-1zM1425 223h1v4h-1zM26 550h1v2h-1zM900 261h1v2h-1zM1342 227h1v2h-1zM1253 137h1v3h-1zM1414 244h1v1h-1zM383 389h1v1h-1zM1014 292h1v2h-1zM519 331h1v2h-1zM11 515h1v3h-1zM1171 257h1v1h-1zM60 530h1v2h-1zM19 537h1v3h-1zM1038 240h1v2h-1zM1204 263h1v2h-1zM169 455h1v2h-1zM1353 251h1v2h-1zM1245 159h1v3h-1zM306 443h1v2h-1zM1430 205h1v4h-1zM1306 148h1v3h-1zM1177 263h1v2h-1zM1196 276h1v2h-1zM12 518h1v3h-1zM96 498h1v2h-1zM843 266h1v1h-1zM1224 214h1v2h-1zM934 294h1v2h-1zM14 525h1v3h-1zM897 255h1v2h-1zM1317 185h1v2h-1zM56 540h1v3h-1zM1178 265h1v2h-1zM65 520h1v2h-1zM778 276h1v1h-1zM1447 132h1v2h-1zM1209 251h1v3h-1zM1181 269h1v2h-1zM1258 126h1v2h-1zM1310 162h1v4h-1zM1459 116h1v1h-1zM423 344h1v1h-1zM15 528h1v3h-1zM1013 294h1v2h-1zM1331 204h1v2h-1zM1022 273h1v2h-1zM91 505h1v1h-1zM1422 234h1v1h-1zM1213 240h1v2h-1zM104 484h1v2h-1zM1439 162h1v5h-1zM1037 242h1v2h-1zM8 505h1v3h-1zM1237 179h1v3h-1zM1438 167h1v4h-1zM529 349h1v2h-1zM1332 206h1v2h-1zM1426 219h1v4h-1zM532 354h1v2h-1zM1345 233h1v2h-1zM893 244h1v3h-1zM690 284h1v1h-1zM1313 173h1v4h-1zM330 405h1v1h-1zM1229 201h1v2h-1zM1216 232h1v2h-1zM522 337h1v2h-1zM439 330h1v1h-1zM525 342h1v2h-1zM142 461h1v1h-1zM1417 240h1v1h-1zM64 522h1v2h-1zM1470 103h1v1h-1zM1443 146h1v4h-1zM1042 231h1v2h-1zM636 349h1v2h-1zM1208 254h1v3h-1zM1254 133h1v4h-1zM1309 158h1v4h-1zM419 351h1v2h-1zM88 508h1v1h-1zM1236 182h1v2h-1zM1009 302h1v1h-1zM1367 247h1v2h-1zM518 329h1v2h-1zM1338 220h1v2h-1zM896 253h1v2h-1zM1033 250h1v2h-1zM586 365h1v2h-1zM515 323h1v2h-1zM899 259h1v2h-1zM1249 149h1v3h-1zM1434 184h1v6h-1zM317 425h1v2h-1zM929 287h1v2h-1zM581 373h1v1h-1zM1352 249h1v2h-1zM168 454h1v1h-1zM1316 183h1v2h-1zM670 310h1v2h-1zM1442 150h1v4h-1zM415 358h1v1h-1zM4 493h1v3h-1zM1241 169h1v3h-1zM933 293h1v1h-1zM150 451h1v1h-1zM1114 234h1v1h-1zM1020 278h1v2h-1zM651 333h1v1h-1zM1429 209h1v3h-1zM1327 198h1v1h-1zM154 448h1v1h-1zM1248 152h1v2h-1zM313 432h1v2h-1zM1302 132h1v5h-1zM59 532h1v3h-1zM55 543h1v3h-1zM1203 265h1v2h-1zM410 364h1v2h-1zM145 457h1v1h-1zM528 347h1v2h-1zM1252 140h1v4h-1zM536 360h1v1h-1zM911 274h1v1h-1zM1371 240h1v1h-1zM1120 240h1v1h-1zM889 236h1v2h-1zM892 241h1v3h-1zM1312 169h1v4h-1zM302 449h1v1h-1zM521 335h1v2h-1zM850 254h1v2h-1zM21 542h1v2h-1zM1121 241h1v1h-1zM95 500h1v2h-1zM839 272h1v1h-1zM1028 260h1v2h-1zM1454 121h1v2h-1zM659 323h1v1h-1zM1232 192h1v3h-1zM309 439h1v1h-1zM554 377h1v1h-1zM1433 190h1v5h-1zM895 250h1v3h-1zM1355 255h1v1h-1zM51 552h1v1h-1zM1017 285h1v3h-1zM25 549h1v1h-1zM1299 120h1v3h-1zM406 371h1v1h-1zM1319 189h1v1h-1zM1211 245h1v3h-1zM1437 171h1v4h-1zM577 378h1v1h-1zM387 385h1v1h-1zM390 381h1v1h-1zM1320 190h1v1h-1zM1180 268h1v1h-1zM654 329h1v1h-1zM1215 234h1v3h-1zM846 260h1v2h-1zM426 339h1v2h-1zM1462 111h1v2h-1zM910 273h1v1h-1zM1330 202h1v2h-1zM635 351h1v2h-1zM1207 257h1v2h-1zM1333 208h1v3h-1zM1450 127h1v2h-1zM584 368h1v2h-1zM1231 195h1v3h-1zM1305 144h1v4h-1zM1432 195h1v6h-1zM1032 252h1v2h-1zM914 278h1v2h-1zM1220 223h1v2h-1zM107 479h1v1h-1zM535 359h1v1h-1zM682 292h1v1h-1zM1244 162h1v2h-1zM1008 303h1v2h-1zM524 340h1v2h-1zM324 413h1v2h-1zM24 547h1v2h-1zM677 299h1v2h-1zM842 267h1v2h-1zM888 235h1v1h-1zM1223 216h1v3h-1zM642 341h1v1h-1zM547 369h1v1h-1zM517 327h1v2h-1zM1337 218h1v2h-1zM580 374h1v2h-1zM1446 134h1v4h-1zM305 445h1v1h-1zM520 333h1v2h-1zM7 502h1v3h-1zM1341 225h1v2h-1zM666 316h1v1h-1zM1012 296h1v2h-1zM1428 212h1v4h-1zM103 486h1v1h-1zM1219 225h1v3h-1zM1351 246h1v3h-1zM1228 203h1v3h-1zM1243 164h1v3h-1zM1354 253h1v2h-1zM1315 181h1v2h-1zM10 512h1v3h-1zM320 420h1v2h-1zM514 321h1v2h-1zM409 366h1v2h-1zM394 378h1v1h-1zM861 240h1v1h-1zM932 291h1v2h-1zM418 353h1v2h-1zM1127 247h1v1h-1zM312 434h1v2h-1zM1176 261h1v2h-1zM685 288h1v2h-1zM1199 272h1v1h-1zM144 458h1v2h-1zM1469 104h1v2h-1zM1041 233h1v2h-1zM1235 184h1v3h-1zM110 475h1v1h-1zM90 506h1v1h-1zM1301 128h1v4h-1zM546 368h1v1h-1zM79 515h1v1h-1zM1424 227h1v4h-1zM1027 262h1v2h-1zM467 322h1v1h-1zM1227 206h1v3h-1zM413 360h1v2h-1zM1039 237h1v3h-1zM63 524h1v2h-1zM1416 241h1v2h-1zM858 243h1v1h-1zM316 427h1v2h-1zM891 239h1v2h-1zM1441 154h1v4h-1zM1366 249h1v2h-1zM308 440h1v2h-1zM382 390h1v1h-1zM1466 108h1v1h-1zM20 540h1v2h-1zM1016 288h1v2h-1zM1344 231h1v2h-1zM1019 280h1v3h-1zM23 546h1v1h-1zM669 312h1v1h-1zM1210 248h1v3h-1zM516 325h1v2h-1zM1195 278h1v1h-1zM1023 270h1v3h-1zM1423 231h1v3h-1zM653 330h1v2h-1zM1340 223h1v2h-1zM898 257h1v2h-1zM1214 237h1v3h-1zM845 262h1v2h-1zM1308 154h1v4h-1zM1247 154h1v3h-1zM58 535h1v3h-1zM1036 244h1v2h-1zM1202 267h1v2h-1zM170 457h1v1h-1zM1314 177h1v4h-1zM513 319h1v2h-1zM648 337h1v1h-1zM542 365h1v1h-1zM1183 272h1v1h-1zM849 256h1v1h-1zM935 296h1v1h-1zM575 380h1v1h-1zM54 546h1v2h-1zM1445 138h1v4h-1zM913 277h1v1h-1zM247 453h1v1h-1zM3 491h1v2h-1zM13 521h1v4h-1zM141 462h1v1h-1zM1116 236h1v1h-1zM251 450h1v1h-1zM9 508h1v4h-1zM665 317h1v2h-1zM295 456h1v1h-1zM549 371h1v2h-1zM1304 141h1v3h-1zM836 276h1v1h-1zM327 408h1v1h-1zM1251 144h1v3h-1zM1343 229h1v2h-1zM139 464h1v1h-1zM319 422h1v1h-1zM672 307h1v2h-1zM1206 259h1v2h-1zM583 370h1v1h-1zM1230 198h1v3h-1zM1336 216h1v2h-1zM1198 273h1v2h-1zM1031 254h1v2h-1zM1300 123h1v5h-1zM1234 187h1v3h-1zM5 496h1v3h-1zM323 415h1v1h-1zM906 269h1v1h-1zM1226 209h1v2h-1zM412 362h1v1h-1zM632 356h1v1h-1zM1461 113h1v1h-1zM676 301h1v2h-1zM1321 191h1v1h-1zM1436 175h1v4h-1zM1370 241h1v2h-1zM1182 271h1v1h-1zM315 429h1v1h-1zM1350 244h1v2h-1zM1362 256h1v1h-1zM304 446h1v2h-1zM147 454h1v1h-1zM1239 174h1v3h-1zM1322 192h1v1h-1zM852 251h1v2h-1zM1018 283h1v2h-1zM1115 235h1v1h-1zM1444 142h1v4h-1zM912 275h1v2h-1zM1453 123h1v1h-1zM1218 228h1v2h-1zM1456 119h1v1h-1zM1328 199h1v2h-1zM1233 190h1v2h-1zM1242 167h1v2h-1zM1419 237h1v1h-1zM299 453h1v1h-1zM408 368h1v2h-1zM1011 298h1v2h-1zM537 361h1v1h-1zM311 436h1v1h-1zM890 238h1v1h-1zM389 382h1v2h-1zM1035 246h1v2h-1zM1339 222h1v1h-1zM656 327h1v1h-1zM1190 279h1v1h-1zM538 362h1v1h-1zM6 499h1v3h-1zM1122 242h1v1h-1zM1026 264h1v2h-1zM1440 158h1v4h-1zM1335 213h1v3h-1zM62 526h1v2h-1zM1307 151h1v3h-1zM512 317h1v2h-1zM1427 216h1v3h-1zM109 476h1v2h-1zM1365 251h1v2h-1zM894 247h1v3h-1zM684 290h1v1h-1zM556 379h1v1h-1zM1468 106h1v1h-1zM1411 246h1v1h-1zM1250 147h1v2h-1zM679 296h1v1h-1zM1225 211h1v3h-1zM668 313h1v2h-1zM579 376h1v1h-1zM1349 241h1v3h-1zM1205 261h1v2h-1zM582 371h1v2h-1zM548 370h1v1h-1zM307 442h1v1h-1zM1030 256h1v2h-1zM863 238h1v1h-1zM663 320h1v1h-1zM53 548h1v2h-1zM555 378h1v1h-1zM675 303h1v1h-1zM1369 243h1v2h-1zM314 430h1v2h-1zM92 504h1v1h-1zM687 286h1v1h-1zM1201 269h1v1h-1zM143 460h1v1h-1zM18 535h1v2h-1zM848 257h1v2h-1zM511 316h1v1h-1zM860 241h1v1h-1zM1452 124h1v2h-1zM1217 230h1v2h-1zM384 388h1v1h-1zM1418 238h1v2h-1zM1185 274h1v2h-1zM470 320h1v1h-1zM99 493h1v1h-1zM162 451h1v1h-1zM310 437h1v2h-1zM855 247h1v1h-1zM937 298h1v1h-1zM1034 248h1v2h-1zM326 409h1v2h-1zM844 264h1v2h-1zM1402 245h1v1h-1zM1025 266h1v2h-1zM1460 114h1v2h-1zM639 344h1v1h-1zM1364 253h1v2h-1zM901 263h1v2h-1zM1257 128h1v1h-1zM322 416h1v2h-1zM146 455h1v2h-1zM1421 235h1v1h-1zM907 270h1v1h-1zM434 334h1v1h-1zM1010 300h1v2h-1zM83 512h1v1h-1zM908 271h1v1h-1zM329 406h1v1h-1zM438 331h1v1h-1zM294 457h1v1h-1zM1184 273h1v1h-1zM403 373h1v1h-1zM318 423h1v2h-1zM87 509h1v1h-1zM52 550h1v2h-1zM442 328h1v1h-1zM298 454h1v1h-1zM407 370h1v1h-1zM671 309h1v1h-1zM674 304h1v2h-1zM1117 237h1v1h-1zM422 345h1v2h-1zM886 233h1v1h-1zM551 374h1v1h-1zM411 363h1v1h-1zM149 452h1v1h-1zM678 297h1v2h-1zM106 480h1v2h-1zM647 338h1v1h-1zM777 277h1v1h-1zM543 366h1v1h-1zM1334 211h1v2h-1zM1458 117h1v1h-1zM851 253h1v1h-1zM854 248h1v2h-1zM936 297h1v1h-1zM1029 258h1v2h-1zM1398 242h1v1h-1zM1455 120h1v1h-1zM301 450h1v2h-1zM558 381h1v1h-1zM102 487h1v2h-1zM1323 193h1v1h-1zM391 380h1v1h-1zM835 277h1v1h-1zM94 502h1v1h-1zM838 273h1v1h-1zM655 328h1v1h-1zM658 324h1v1h-1zM550 373h1v1h-1zM1240 172h1v2h-1zM138 465h1v1h-1zM585 367h1v1h-1zM862 239h1v1h-1zM386 386h1v1h-1zM903 267h1v1h-1zM650 334h1v1h-1zM98 494h1v2h-1zM866 236h1v1h-1zM539 363h1v1h-1zM325 411h1v2h-1zM857 244h1v2h-1zM17 533h1v2h-1zM634 353h1v1h-1zM414 359h1v1h-1zM557 380h1v1h-1zM631 357h1v1h-1zM1124 244h1v1h-1zM1024 268h1v2h-1zM841 269h1v1h-1zM638 345h1v2h-1zM1256 129h1v2h-1zM421 347h1v2h-1zM641 342h1v1h-1zM321 418h1v2h-1zM1187 277h1v1h-1zM1348 239h1v2h-1zM662 321h1v1h-1zM1359 258h1v1h-1zM902 265h1v2h-1zM425 341h1v1h-1zM1123 243h1v1h-1zM1040 235h1v2h-1zM417 355h1v1h-1zM681 293h1v2h-1zM89 507h1v1h-1zM16 531h1v2h-1zM1449 129h1v1h-1zM101 489h1v2h-1zM928 286h1v1h-1zM1358 257h1v1h-1zM82 513h1v1h-1zM1374 238h1v1h-1zM1186 276h1v1h-1zM151 450h1v1h-1zM1326 197h1v1h-1zM66 518h1v2h-1zM649 335h1v2h-1zM97 496h1v2h-1zM1363 255h1v1h-1zM1347 237h1v2h-1zM576 379h1v1h-1zM1238 177h1v2h-1zM1311 166h1v3h-1zM776 278h1v1h-1zM1415 243h1v1h-1zM1015 290h1v2h-1zM837 274h1v2h-1zM328 407h1v1h-1zM637 347h1v2h-1zM1255 131h1v2h-1zM657 325h1v2h-1zM140 463h1v1h-1zM300 452h1v1h-1zM1325 195h1v2h-1zM1222 219h1v2h-1zM250 451h1v1h-1zM86 510h1v1h-1zM1179 267h1v1h-1zM673 306h1v1h-1zM938 299h1v1h-1zM909 272h1v1h-1zM530 351h1v2h-1zM424 342h1v2h-1zM1130 249h1v1h-1zM61 528h1v2h-1zM105 482h1v2h-1zM633 354h1v2h-1zM527 346h1v1h-1zM416 356h1v2h-1zM534 357h1v2h-1zM531 353h1v1h-1zM148 453h1v1h-1zM385 387h1v1h-1zM552 375h1v1h-1zM523 339h1v1h-1zM1457 118h1v1h-1zM853 250h1v1h-1zM553 376h1v1h-1zM420 349h1v2h-1zM927 285h1v1h-1zM1420 236h1v1h-1zM1318 187h1v2h-1zM303 448h1v1h-1zM159 449h1v1h-1zM840 270h1v2h-1zM93 503h1v1h-1zM1399 243h1v1h-1zM1175 260h1v1h-1zM1368 245h1v2h-1zM388 384h1v1h-1zM1197 275h1v1h-1zM431 336h1v1h-1zM652 332h1v1h-1zM1118 238h1v1h-1zM887 234h1v1h-1zM435 333h1v1h-1zM1329 201h1v1h-1zM1119 239h1v1h-1zM1463 110h1v1h-1zM108 478h1v1h-1zM680 295h1v1h-1zM254 452h1v1h-1zM1125 245h1v1h-1zM1043 230h1v1h-1zM1126 246h1v1h-1zM640 343h1v1h-1zM664 319h1v1h-1zM578 377h1v1h-1zM667 315h1v1h-1zM930 289h1v1h-1zM1174 259h1v1h-1zM1324 194h1v1h-1zM931 290h1v1h-1zM533 356h1v1h-1z"/>
<rect x="3" y="51" width="1486" height="1" fill="#f00"/>
<rect x="3" y="99" width="1486" height="1" fill="#f00"/>
<path fill="#f00" d="M746 338h6v1h-6zM1164 268h6v1h-6zM1248 254h5v1h-5zM1307 244h6v1h-6zM1176 266h6v1h-6zM1044 288h6v1h-6zM901 312h6v1h-6zM1463 218h6v1h-6zM913 310h6v1h-6zM781 332h6v1h-6zM638 356h6v1h-6zM1116 276h6v1h-6zM1200 262h6v1h-6zM566 368h6v1h-6zM853 320h6v1h-6zM1086 281h6v1h-6zM955 303h6v1h-6zM1283 248h6v1h-6zM590 364h6v1h-6zM823 325h6v1h-6zM692 347h6v1h-6zM1020 292h6v1h-6zM560 369h6v1h-6zM907 311h6v1h-6zM1236 256h6v1h-6zM1319 242h6v1h-6zM1325 241h6v1h-6zM644 355h6v1h-6zM973 300h6v1h-6zM1062 285h6v1h-6zM710 344h6v1h-6zM799 329h6v1h-6zM1188 264h6v1h-6zM1361 235h6v1h-6zM596 363h6v1h-6zM1015 293h5v1h-5zM1098 279h6v1h-6zM752 337h6v1h-6zM1313 243h6v1h-6zM764 335h6v1h-6zM967 301h6v1h-6zM1050 287h6v1h-6zM1379 232h6v1h-6zM979 299h6v1h-6zM1397 229h6v1h-6zM1469 217h6v1h-6zM704 345h6v1h-6zM1265 251h6v1h-6zM1134 273h6v1h-6zM859 319h6v1h-6zM1421 225h6v1h-6zM787 331h6v1h-6zM871 317h6v1h-6zM1433 223h6v1h-6zM1074 283h6v1h-6zM1158 269h6v1h-6zM1170 267h6v1h-6zM811 327h6v1h-6zM1242 255h6v1h-6zM1385 231h6v1h-6zM548 371h6v1h-6zM650 354h6v1h-6zM1038 289h6v1h-6zM1122 275h6v1h-6zM776 333h5v1h-5zM865 318h6v1h-6zM1194 263h6v1h-6zM602 362h6v1h-6zM931 307h6v1h-6zM817 326h6v1h-6zM1146 271h6v1h-6zM1230 257h6v1h-6zM554 370h6v1h-6zM883 315h6v1h-6zM985 298h6v1h-6zM620 359h6v1h-6zM1271 250h6v1h-6zM722 342h6v1h-6zM925 308h6v1h-6zM1009 294h6v1h-6zM1337 239h6v1h-6zM937 306h6v1h-6zM1355 236h6v1h-6zM662 352h6v1h-6zM674 350h6v1h-6zM1092 280h6v1h-6zM889 314h6v1h-6zM829 324h6v1h-6zM1391 230h6v1h-6zM626 358h6v1h-6zM1343 238h6v1h-6zM997 296h6v1h-6zM1080 282h6v1h-6zM1415 226h6v1h-6zM1427 224h6v1h-6zM734 340h6v1h-6zM1152 270h6v1h-6zM1295 246h6v1h-6zM1032 290h6v1h-6zM1451 220h6v1h-6zM1104 278h6v1h-6zM1206 261h6v1h-6zM841 322h6v1h-6zM943 305h6v1h-6zM578 366h6v1h-6zM680 349h6v1h-6zM1487 214h3v1h-3zM895 313h6v1h-6zM1224 258h6v1h-6zM632 357h6v1h-6zM877 316h6v1h-6zM961 302h6v1h-6zM614 360h6v1h-6zM847 321h6v1h-6zM1349 237h6v1h-6zM584 365h6v1h-6zM1003 295h6v1h-6zM1331 240h6v1h-6zM656 353h6v1h-6zM740 339h6v1h-6zM1068 284h6v1h-6zM668 351h6v1h-6zM1301 245h6v1h-6zM1373 233h6v1h-6zM1457 219h6v1h-6zM1110 277h6v1h-6zM1253 253h6v1h-6zM1409 227h6v1h-6zM728 341h6v1h-6zM1026 291h6v1h-6zM1445 221h6v1h-6zM1182 265h6v1h-6zM835 323h6v1h-6zM919 309h6v1h-6zM1481 215h6v1h-6zM572 367h6v1h-6zM805 328h6v1h-6zM542 372h6v1h-6zM698 346h6v1h-6zM1259 252h6v1h-6zM686 348h6v1h-6zM770 334h6v1h-6zM1403 228h6v1h-6zM1140 272h6v1h-6zM1439 222h6v1h-6zM1475 216h6v1h-6zM1212 260h6v1h-6zM1367 234h6v1h-6zM991 297h6v1h-6zM1289 247h6v1h-6zM608 361h6v1h-6zM716 343h6v1h-6zM1218 259h6v1h-6zM1277 249h6v1h-6zM758 336h6v1h-6zM1056 286h6v1h-6zM793 330h6v1h-6zM949 304h6v1h-6zM1128 274h6v1h-6zM539 373h3v1h-3z"/>
<path fill="#000" d="M3 452h1v39h-1zM2 486h3v4h-3zM7 481h1v46h-1zM6 486h3v16h-3zM11 480h1v60h-1zM10 492h3v9h-3zM15 484h1v39h-1zM14 492h3v21h-3zM19 504h1v18h-1zM18 504h3v6h-3zM23 492h1v16h-1zM22 501h3v5h-3zM27 478h1v45h-1zM26 484h3v18h-3zM31 472h1v19h-1zM30 484h3v2h-3zM35 448h1v45h-1zM34 455h3v31h-3zM39 441h1v23h-1zM38 446h3v11h-3zM43 442h1v19h-1zM42 446h3v15h-3zM47 452h1v23h-1zM46 453h3v6h-3zM51 435h1v32h-1zM50 436h3v18h-3zM55 428h1v25h-1zM54 435h3v8h-3zM59 427h1v42h-1zM58 441h3v21h-3zM63 451h1v25h-1zM62 454h3v7h-3zM67 454h1v14h-1zM66 455h3v12h-3zM71 452h1v17h-1zM70 456h3v11h-3zM75 437h1v22h-1zM74 439h3v19h-3zM79 437h1v12h-1zM78 438h3v9h-3zM83 440h1v29h-1zM82 445h3v1h-3zM87 433h1v26h-1zM86 435h3v12h-3zM91 407h1v16h-1zM90 416h3v7h-3zM95 408h1v11h-1zM94 411h3v7h-3zM99 411h1v17h-1zM98 411h3v12h-3zM103 418h1v40h-1zM102 421h3v26h-3zM107 415h1v34h-1zM106 430h3v17h-3zM111 412h1v28h-1zM110 412h3v19h-3zM115 401h1v18h-1zM114 403h3v15h-3zM119 415h1v11h-1zM118 416h3v8h-3zM123 408h1v17h-1zM122 413h3v11h-3zM127 410h1v13h-1zM126 412h3v4h-3zM131 412h1v21h-1zM130 414h3v6h-3zM135 412h1v21h-1zM134 418h3v13h-3zM139 425h1v12h-1zM138 428h3v9h-3zM143 425h1v14h-1zM142 433h3v4h-3zM147 421h1v22h-1zM146 423h3v12h-3zM151 416h1v13h-1zM150 423h3v5h-3zM155 415h1v29h-1zM154 421h3v6h-3zM159 417h1v39h-1zM158 420h3v33h-3zM163 446h1v11h-1zM162 451h3v1h-3zM167 448h1v15h-1zM166 450h3v3h-3zM171 444h1v25h-1zM170 450h3v12h-3zM175 448h1v18h-1zM174 450h3v12h-3zM179 430h1v30h-1zM178 440h3v11h-3zM183 422h1v21h-1zM182 430h3v11h-3zM187 427h1v14h-1zM186 430h3v4h-3zM191 418h1v15h-1zM190 425h3v6h-3zM195 422h1v10h-1zM194 424h3v1h-3zM199 417h1v11h-1zM198 424h3v3h-3zM203 418h1v18h-1zM202 424h3v3h-3zM207 422h1v22h-1zM206 424h3v19h-3zM211 434h1v9h-1zM210 436h3v3h-3zM215 432h1v6h-1zM214 434h3v4h-3zM219 427h1v12h-1zM218 433h3v3h-3zM223 431h1v12h-1zM222 432h3v4h-3zM227 421h1v47h-1zM226 434h3v13h-3zM231 434h1v20h-1zM230 442h3v6h-3zM235 430h1v13h-1zM234 435h3v8h-3zM239 426h1v9h-1zM238 430h3v5h-3zM243 428h1v10h-1zM242 430h3v5h-3zM247 431h1v9h-1zM246 432h3v3h-3zM251 410h1v42h-1zM250 411h3v22h-3zM255 397h1v18h-1zM254 398h3v14h-3zM259 381h1v21h-1zM258 383h3v16h-3zM263 382h1v16h-1zM262 383h3v15h-3zM267 391h1v10h-1zM266 395h3v4h-3zM271 394h1v11h-1zM270 395h3v4h-3zM275 389h1v16h-1zM274 390h3v9h-3zM279 380h1v16h-1zM278 382h3v9h-3zM283 376h1v9h-1zM282 376h3v7h-3zM287 372h1v7h-1zM286 376h3v2h-3zM291 370h1v12h-1zM290 376h3v1h-3zM295 374h1v6h-1zM294 376h3v1h-3zM299 372h1v22h-1zM298 376h3v12h-3zM303 381h1v8h-1zM302 385h3v4h-3zM307 378h1v13h-1zM306 378h3v11h-3zM311 374h1v7h-1zM310 376h3v3h-3zM315 366h1v14h-1zM314 368h3v10h-3zM319 350h1v22h-1zM318 361h3v8h-3zM323 358h1v6h-1zM322 358h3v4h-3zM327 344h1v19h-1zM326 346h3v12h-3zM331 354h1v19h-1zM330 357h3v12h-3zM335 360h1v19h-1zM334 362h3v7h-3zM339 350h1v17h-1zM338 358h3v5h-3zM343 352h1v50h-1zM342 358h3v15h-3zM347 347h1v27h-1zM346 348h3v26h-3zM351 333h1v18h-1zM350 334h3v11h-3zM355 328h1v9h-1zM354 333h3v1h-3zM359 328h1v14h-1zM358 333h3v5h-3zM363 328h1v11h-1zM362 333h3v5h-3zM367 308h1v38h-1zM366 316h3v19h-3zM371 302h1v23h-1zM370 315h3v1h-3zM375 312h1v15h-1zM374 314h3v12h-3zM379 319h1v9h-1zM378 324h3v1h-3zM383 315h1v12h-1zM382 319h3v5h-3zM387 317h1v14h-1zM386 319h3v10h-3zM391 312h1v37h-1zM390 320h3v9h-3zM395 312h1v15h-1zM394 314h3v7h-3zM399 309h1v7h-1zM398 311h3v1h-3zM403 306h1v10h-1zM402 311h3v1h-3zM407 309h1v7h-1zM406 311h3v2h-3zM411 309h1v6h-1zM410 311h3v3h-3zM415 296h1v22h-1zM414 309h3v4h-3zM419 302h1v18h-1zM418 308h3v1h-3zM423 306h1v7h-1zM422 307h3v1h-3zM427 302h1v10h-1zM426 304h3v6h-3zM431 301h1v6h-1zM430 303h3v2h-3zM435 302h1v11h-1zM434 304h3v7h-3zM439 298h1v20h-1zM438 298h3v13h-3zM443 298h1v10h-1zM442 298h3v3h-3zM447 291h1v10h-1zM446 292h3v7h-3zM451 297h1v7h-1zM450 298h3v6h-3zM455 298h1v15h-1zM454 302h3v5h-3zM459 298h1v9h-1zM458 298h3v9h-3zM463 279h1v22h-1zM462 289h3v10h-3zM467 281h1v14h-1zM466 289h3v1h-3zM471 284h1v9h-1zM470 288h3v4h-3zM475 286h1v9h-1zM474 288h3v4h-3zM479 283h1v8h-1zM478 285h3v4h-3zM483 283h1v18h-1zM482 284h3v7h-3zM487 282h1v25h-1zM486 283h3v8h-3zM491 270h1v14h-1zM490 270h3v14h-3zM495 265h1v11h-1zM494 269h3v5h-3zM499 270h1v5h-1zM498 270h3v4h-3zM503 269h1v8h-1zM502 271h3v3h-3zM507 271h1v9h-1zM506 273h3v4h-3zM511 271h1v44h-1zM510 274h3v35h-3zM515 305h1v47h-1zM514 307h3v34h-3zM519 336h1v10h-1zM518 340h3v4h-3zM523 337h1v13h-1zM522 339h3v10h-3zM527 336h1v17h-1zM526 338h3v11h-3zM531 334h1v30h-1zM530 338h3v26h-3zM535 317h1v56h-1zM534 338h3v26h-3zM539 321h1v19h-1zM538 331h3v8h-3zM543 325h1v11h-1zM542 330h3v4h-3zM547 331h1v8h-1zM546 332h3v6h-3zM551 332h1v19h-1zM550 336h3v12h-3zM555 343h1v19h-1zM554 345h3v1h-3zM559 338h1v31h-1zM558 345h3v15h-3zM563 333h1v27h-1zM562 336h3v24h-3zM567 322h1v7h-1zM566 323h3v4h-3zM571 324h1v9h-1zM570 324h3v9h-3zM575 320h1v13h-1zM574 324h3v9h-3zM579 316h1v12h-1zM578 323h3v3h-3zM583 296h1v29h-1zM582 306h3v19h-3zM587 300h1v19h-1zM586 306h3v8h-3zM591 310h1v7h-1zM590 313h3v3h-3zM595 312h1v13h-1zM594 313h3v4h-3zM599 301h1v18h-1zM598 303h3v13h-3zM603 292h1v15h-1zM602 293h3v10h-3zM607 287h1v28h-1zM606 293h3v6h-3zM611 282h1v19h-1zM610 283h3v16h-3zM615 279h1v9h-1zM614 282h3v3h-3zM619 276h1v11h-1zM618 279h3v7h-3zM623 272h1v10h-1zM622 274h3v7h-3zM627 273h1v12h-1zM626 274h3v4h-3zM631 269h1v22h-1zM630 273h3v5h-3zM635 259h1v22h-1zM634 265h3v9h-3zM639 263h1v4h-1zM638 264h3v1h-3zM643 256h1v12h-1zM642 257h3v9h-3zM647 246h1v13h-1zM646 251h3v7h-3zM651 249h1v5h-1zM650 251h3v1h-3zM655 244h1v20h-1zM654 251h3v3h-3zM659 243h1v16h-1zM658 246h3v8h-3zM663 246h1v10h-1zM662 248h3v6h-3zM667 251h1v8h-1zM666 253h3v1h-3zM671 240h1v16h-1zM670 247h3v7h-3zM675 240h1v12h-1zM674 240h3v10h-3zM679 238h1v32h-1zM678 240h3v17h-3zM683 254h1v27h-1zM682 256h3v3h-3zM687 246h1v9h-1zM686 249h3v5h-3zM691 241h1v11h-1zM690 244h3v7h-3zM695 243h1v31h-1zM694 244h3v27h-3zM699 269h1v47h-1zM698 270h3v19h-3zM703 268h1v48h-1zM702 271h3v18h-3zM707 258h1v17h-1zM706 261h3v11h-3zM711 252h1v12h-1zM710 257h3v1h-3zM715 253h1v20h-1zM714 257h3v13h-3zM719 249h1v26h-1zM718 253h3v17h-3zM723 245h1v11h-1zM722 249h3v5h-3zM727 246h1v39h-1zM726 249h3v17h-3zM731 255h1v12h-1zM730 256h3v10h-3zM735 253h1v24h-1zM734 257h3v12h-3zM739 257h1v14h-1zM738 258h3v11h-3zM743 250h1v11h-1zM742 252h3v8h-3zM747 250h1v9h-1zM746 252h3v2h-3zM751 252h1v19h-1zM750 253h3v4h-3zM755 251h1v27h-1zM754 256h3v15h-3zM759 266h1v9h-1zM758 267h3v2h-3zM763 264h1v6h-1zM762 266h3v3h-3zM767 265h1v6h-1zM766 267h3v1h-3zM771 265h1v5h-1zM770 266h3v3h-3zM775 253h1v18h-1zM774 257h3v12h-3zM779 257h1v4h-1zM778 258h3v1h-3zM783 244h1v21h-1zM782 246h3v18h-3zM787 239h1v8h-1zM786 240h3v6h-3zM791 237h1v8h-1zM790 239h3v1h-3zM795 229h1v14h-1zM794 230h3v13h-3zM799 225h1v26h-1zM798 226h3v6h-3zM803 222h1v8h-1zM802 225h3v3h-3zM807 220h1v7h-1zM806 222h3v5h-3zM811 216h1v8h-1zM810 217h3v7h-3zM815 212h1v7h-1zM814 215h3v3h-3zM819 214h1v5h-1zM818 215h3v1h-3zM823 208h1v27h-1zM822 214h3v12h-3zM827 220h1v12h-1zM826 222h3v3h-3zM831 220h1v10h-1zM830 222h3v3h-3zM835 214h1v12h-1zM834 218h3v7h-3zM839 214h1v5h-1zM838 215h3v4h-3zM843 211h1v8h-1zM842 213h3v3h-3zM847 210h1v21h-1zM846 213h3v12h-3zM851 218h1v14h-1zM850 223h3v5h-3zM855 222h1v5h-1zM854 223h3v3h-3zM859 221h1v7h-1zM858 223h3v3h-3zM863 222h1v6h-1zM862 223h3v4h-3zM867 221h1v7h-1zM866 223h3v3h-3zM871 222h1v15h-1zM870 225h3v6h-3zM875 213h1v22h-1zM874 218h3v14h-3zM879 213h1v18h-1zM878 219h3v5h-3zM883 218h1v7h-1zM882 219h3v5h-3zM887 198h1v23h-1zM886 202h3v19h-3zM891 200h1v5h-1zM890 201h3v3h-3zM895 202h1v99h-1zM894 203h3v81h-3zM899 257h1v29h-1zM898 262h3v22h-3zM903 253h1v16h-1zM902 256h3v8h-3zM907 253h1v15h-1zM906 256h3v5h-3zM911 256h1v11h-1zM910 258h3v5h-3zM915 253h1v27h-1zM914 258h3v22h-3zM919 240h1v40h-1zM918 253h3v27h-3zM923 233h1v23h-1zM922 235h3v19h-3zM927 225h1v42h-1zM926 234h3v22h-3zM931 250h1v37h-1zM930 254h3v26h-3zM935 266h1v43h-1zM934 279h3v9h-3zM939 272h1v35h-1zM938 286h3v5h-3zM943 236h1v58h-1zM942 243h3v48h-3zM947 237h1v48h-1zM946 243h3v27h-3zM951 249h1v24h-1zM950 250h3v20h-3zM955 249h1v12h-1zM954 250h3v7h-3zM959 244h1v26h-1zM958 255h3v9h-3zM963 252h1v16h-1zM962 256h3v7h-3zM967 207h1v51h-1zM966 214h3v43h-3zM971 198h1v22h-1zM970 207h3v8h-3zM975 196h1v14h-1zM974 197h3v11h-3zM979 195h1v8h-1zM978 196h3v3h-3zM983 191h1v12h-1zM982 193h3v4h-3zM987 187h1v11h-1zM986 190h3v5h-3zM991 175h1v26h-1zM990 182h3v10h-3zM995 164h1v44h-1zM994 167h3v16h-3zM999 164h1v16h-1zM998 166h3v13h-3zM1003 174h1v12h-1zM1002 177h3v4h-3zM1007 172h1v13h-1zM1006 179h3v4h-3zM1011 176h1v22h-1zM1010 180h3v15h-3zM1015 186h1v30h-1zM1014 190h3v5h-3zM1019 187h1v34h-1zM1018 190h3v24h-3zM1023 202h1v13h-1zM1022 207h3v2h-3zM1027 204h1v13h-1zM1026 207h3v1h-3zM1031 198h1v14h-1zM1030 200h3v9h-3zM1035 198h1v24h-1zM1034 200h3v18h-3zM1039 200h1v45h-1zM1038 216h3v11h-3zM1043 210h1v18h-1zM1042 217h3v10h-3zM1047 207h1v13h-1zM1046 208h3v10h-3zM1051 204h1v6h-1zM1050 208h3v1h-3zM1055 205h1v8h-1zM1054 207h3v3h-3zM1059 206h1v26h-1zM1058 207h3v14h-3zM1063 190h1v33h-1zM1062 196h3v25h-3zM1067 188h1v13h-1zM1066 197h3v1h-3zM1071 186h1v11h-1zM1070 187h3v9h-3zM1075 185h1v21h-1zM1074 186h3v12h-3zM1079 193h1v12h-1zM1078 197h3v4h-3zM1083 191h1v17h-1zM1082 193h3v9h-3zM1087 183h1v22h-1zM1086 193h3v1h-3zM1091 193h1v26h-1zM1090 193h3v20h-3zM1095 206h1v15h-1zM1094 209h3v7h-3zM1099 207h1v24h-1zM1098 215h3v15h-3zM1103 212h1v18h-1zM1102 217h3v13h-3zM1107 210h1v15h-1zM1106 214h3v5h-3zM1111 205h1v45h-1zM1110 214h3v11h-3zM1115 215h1v23h-1zM1114 224h3v13h-3zM1119 236h1v18h-1zM1118 238h3v7h-3zM1123 238h1v10h-1zM1122 239h3v6h-3zM1127 238h1v8h-1zM1126 239h3v1h-3zM1131 232h1v10h-1zM1130 234h3v6h-3zM1135 232h1v9h-1zM1134 233h3v2h-3zM1139 215h1v19h-1zM1138 216h3v17h-3zM1143 201h1v18h-1zM1142 209h3v9h-3zM1147 204h1v8h-1zM1146 206h3v4h-3zM1151 204h1v12h-1zM1150 206h3v9h-3zM1155 199h1v27h-1zM1154 200h3v15h-3zM1159 182h1v19h-1zM1158 182h3v19h-3zM1163 176h1v11h-1zM1162 180h3v4h-3zM1167 173h1v13h-1zM1166 177h3v4h-3zM1171 168h1v12h-1zM1170 171h3v7h-3zM1175 159h1v14h-1zM1174 162h3v10h-3zM1179 125h1v38h-1zM1178 126h3v37h-3zM1183 113h1v27h-1zM1182 121h3v7h-3zM1187 100h1v23h-1zM1186 106h3v16h-3zM1191 98h1v12h-1zM1190 101h3v8h-3zM1195 100h1v12h-1zM1194 101h3v8h-3zM1199 103h1v17h-1zM1198 107h3v10h-3zM1203 98h1v27h-1zM1202 105h3v12h-3zM1207 90h1v17h-1zM1206 96h3v10h-3zM1211 95h1v11h-1zM1210 97h3v8h-3zM1215 101h1v12h-1zM1214 103h3v7h-3zM1219 105h1v12h-1zM1218 107h3v6h-3zM1223 111h1v10h-1zM1222 112h3v4h-3zM1227 99h1v17h-1zM1226 107h3v8h-3zM1231 98h1v13h-1zM1230 102h3v6h-3zM1235 86h1v15h-1zM1234 87h3v13h-3zM1239 80h1v9h-1zM1238 82h3v7h-3zM1243 73h1v13h-1zM1242 76h3v7h-3zM1247 71h1v9h-1zM1246 76h3v3h-3zM1251 60h1v87h-1zM1250 76h3v16h-3zM1255 76h1v26h-1zM1254 81h3v11h-3zM1259 79h1v11h-1zM1258 83h3v4h-3zM1263 83h1v18h-1zM1262 85h3v11h-3zM1267 83h1v16h-1zM1266 89h3v7h-3zM1271 75h1v16h-1zM1270 78h3v13h-3zM1275 65h1v26h-1zM1274 77h3v1h-3zM1279 49h1v33h-1zM1278 60h3v19h-3zM1283 52h1v12h-1zM1282 60h3v1h-3zM1287 57h1v8h-1zM1286 59h3v4h-3zM1291 56h1v11h-1zM1290 58h3v4h-3zM1295 60h1v49h-1zM1294 61h3v38h-3zM1299 95h1v56h-1zM1298 97h3v20h-3zM1303 112h1v106h-1zM1302 115h3v62h-3zM1307 159h1v42h-1zM1306 164h3v18h-3zM1311 160h1v27h-1zM1310 162h3v21h-3zM1315 178h1v35h-1zM1314 182h3v16h-3zM1319 159h1v45h-1zM1318 162h3v36h-3zM1323 100h1v63h-1zM1322 103h3v59h-3zM1327 97h1v68h-1zM1326 103h3v51h-3zM1331 145h1v30h-1zM1330 152h3v22h-3zM1335 168h1v30h-1zM1334 170h3v20h-3zM1339 172h1v34h-1zM1338 189h3v4h-3zM1343 150h1v43h-1zM1342 159h3v34h-3zM1347 152h1v78h-1zM1346 159h3v64h-3zM1351 184h1v45h-1zM1350 206h3v18h-3zM1355 218h1v38h-1zM1354 224h3v20h-3zM1359 193h1v33h-1zM1358 195h3v30h-3zM1363 175h1v32h-1zM1362 178h3v18h-3zM1367 170h1v15h-1zM1366 178h3v3h-3zM1371 129h1v69h-1zM1370 130h3v50h-3zM1375 126h1v17h-1zM1374 130h3v8h-3zM1379 110h1v28h-1zM1378 112h3v26h-3zM1383 103h1v16h-1zM1382 111h3v1h-3zM1387 102h1v18h-1zM1386 105h3v9h-3zM1391 103h1v12h-1zM1390 104h3v4h-3zM1395 80h1v33h-1zM1394 82h3v26h-3zM1399 71h1v25h-1zM1398 74h3v9h-3zM1403 65h1v15h-1zM1402 70h3v3h-3zM1407 62h1v14h-1zM1406 63h3v8h-3zM1411 53h1v18h-1zM1410 62h3v8h-3zM1415 59h1v11h-1zM1414 63h3v6h-3zM1419 62h1v38h-1zM1418 63h3v15h-3zM1423 73h1v27h-1zM1422 77h3v16h-3zM1427 85h1v11h-1zM1426 87h3v4h-3zM1431 85h1v26h-1zM1430 88h3v14h-3zM1435 83h1v23h-1zM1434 86h3v16h-3zM1439 81h1v12h-1zM1438 84h3v3h-3zM1443 76h1v24h-1zM1442 77h3v8h-3zM1447 57h1v23h-1zM1446 57h3v22h-3zM1451 57h1v11h-1zM1450 57h3v3h-3zM1455 46h1v13h-1zM1454 46h3v12h-3zM1459 45h1v13h-1zM1458 46h3v7h-3zM1463 47h1v10h-1zM1462 52h3v2h-3zM1467 42h1v28h-1zM1466 42h3v12h-3zM1471 40h1v18h-1zM1470 42h3v8h-3zM1475 29h1v16h-1zM1474 30h3v13h-3zM1479 30h1v2h-1zM1478 31h3v1h-3z"/>
<path fill="#fff" d="M11 493h1v7h-1zM19 505h1v4h-1zM23 502h1v3h-1zM27 485h1v16h-1zM35 456h1v29h-1zM39 447h1v9h-1zM47 454h1v4h-1zM51 437h1v16h-1zM63 455h1v5h-1zM71 457h1v9h-1zM75 440h1v17h-1zM87 436h1v10h-1zM91 417h1v5h-1zM95 412h1v5h-1zM107 431h1v15h-1zM111 413h1v17h-1zM123 414h1v9h-1zM143 434h1v2h-1zM147 424h1v10h-1zM155 422h1v4h-1zM175 451h1v10h-1zM179 441h1v9h-1zM183 431h1v9h-1zM187 431h1v2h-1zM191 426h1v4h-1zM211 437h1v1h-1zM215 435h1v2h-1zM219 434h1v1h-1zM231 443h1v4h-1zM235 436h1v6h-1zM239 431h1v3h-1zM251 412h1v20h-1zM255 399h1v12h-1zM259 384h1v14h-1zM267 396h1v2h-1zM275 391h1v7h-1zM279 383h1v7h-1zM283 377h1v5h-1zM307 379h1v9h-1zM311 377h1v1h-1zM315 369h1v8h-1zM319 362h1v6h-1zM323 359h1v2h-1zM335 363h1v5h-1zM339 359h1v3h-1zM347 349h1v24h-1zM351 335h1v9h-1zM363 334h1v3h-1zM367 317h1v17h-1zM383 320h1v3h-1zM391 321h1v7h-1zM395 315h1v5h-1zM415 310h1v2h-1zM427 305h1v4h-1zM439 299h1v11h-1zM459 299h1v7h-1zM463 290h1v8h-1zM475 289h1v2h-1zM479 286h1v2h-1zM487 284h1v6h-1zM491 271h1v12h-1zM499 271h1v2h-1zM519 341h1v2h-1zM527 339h1v9h-1zM535 339h1v24h-1zM539 332h1v6h-1zM563 337h1v22h-1zM575 325h1v7h-1zM583 307h1v17h-1zM599 304h1v11h-1zM603 294h1v8h-1zM611 284h1v14h-1zM619 280h1v5h-1zM623 275h1v5h-1zM631 274h1v3h-1zM635 266h1v7h-1zM643 258h1v7h-1zM647 252h1v5h-1zM659 247h1v6h-1zM671 248h1v5h-1zM675 241h1v8h-1zM687 250h1v3h-1zM691 245h1v5h-1zM703 272h1v16h-1zM707 262h1v9h-1zM719 254h1v15h-1zM723 250h1v3h-1zM731 257h1v8h-1zM739 259h1v9h-1zM743 253h1v6h-1zM775 258h1v10h-1zM783 247h1v16h-1zM787 241h1v4h-1zM795 231h1v11h-1zM799 227h1v4h-1zM807 223h1v3h-1zM811 218h1v5h-1zM815 216h1v1h-1zM827 223h1v1h-1zM835 219h1v5h-1zM839 216h1v2h-1zM843 214h1v1h-1zM855 224h1v1h-1zM875 219h1v12h-1zM883 220h1v3h-1zM887 203h1v17h-1zM899 263h1v20h-1zM903 257h1v6h-1zM911 259h1v3h-1zM919 254h1v25h-1zM923 236h1v17h-1zM943 244h1v46h-1zM951 251h1v18h-1zM963 257h1v5h-1zM967 215h1v41h-1zM971 208h1v6h-1zM975 198h1v9h-1zM983 194h1v2h-1zM987 191h1v3h-1zM991 183h1v8h-1zM995 168h1v14h-1zM1015 191h1v3h-1zM1031 201h1v7h-1zM1043 218h1v8h-1zM1047 209h1v8h-1zM1055 208h1v1h-1zM1063 197h1v23h-1zM1071 188h1v7h-1zM1083 194h1v7h-1zM1103 218h1v11h-1zM1107 215h1v3h-1zM1123 240h1v4h-1zM1131 235h1v4h-1zM1139 217h1v15h-1zM1143 210h1v7h-1zM1147 207h1v2h-1zM1155 201h1v13h-1zM1159 183h1v17h-1zM1163 181h1v2h-1zM1167 178h1v2h-1zM1171 172h1v5h-1zM1175 163h1v8h-1zM1179 127h1v35h-1zM1183 122h1v5h-1zM1187 107h1v14h-1zM1191 102h1v6h-1zM1203 106h1v10h-1zM1207 97h1v8h-1zM1227 108h1v6h-1zM1231 103h1v4h-1zM1235 88h1v11h-1zM1239 83h1v5h-1zM1243 77h1v5h-1zM1255 82h1v9h-1zM1267 90h1v5h-1zM1271 79h1v11h-1zM1279 61h1v17h-1zM1287 60h1v2h-1zM1307 165h1v16h-1zM1319 163h1v34h-1zM1323 104h1v57h-1zM1343 160h1v32h-1zM1351 207h1v16h-1zM1355 225h1v18h-1zM1359 196h1v28h-1zM1363 179h1v16h-1zM1371 131h1v48h-1zM1379 113h1v24h-1zM1387 106h1v7h-1zM1395 83h1v24h-1zM1399 75h1v7h-1zM1407 64h1v6h-1zM1415 64h1v4h-1zM1435 87h1v14h-1zM1439 85h1v1h-1zM1443 78h1v6h-1zM1447 58h1v20h-1zM1451 58h1v1h-1zM1455 47h1v10h-1zM1467 43h1v10h-1zM1475 31h1v11h-1z"/>
</g>
<g clip-path="url(#c2)">
<path fill="#c0c0c0" d="M214 711h8v1h-8zM767 711h2v1h-2zM778 711h2v1h-2zM288 660h2v1h-2zM319 660h2v1h-2zM333 660h2v1h-2zM432 660h2v1h-2zM683 660h2v1h-2zM65 705h2v1h-2zM202 705h2v1h-2zM1061 705h2v1h-2zM175 724h3v1h-3zM1149 724h2v1h-2zM309 665h2v1h-2zM312 665h2v1h-2zM343 665h2v1h-2zM448 665h2v1h-2zM498 665h8v1h-8zM225 713h2v1h-2zM246 713h2v1h-2zM771 713h3v1h-3zM1127 744h3v1h-3zM1134 744h2v1h-2zM291 658h6v1h-6zM323 658h3v1h-3zM329 658h2v1h-2zM427 658h3v1h-3zM143 688h3v1h-3zM864 688h2v1h-2zM192 710h2v1h-2zM211 710h3v1h-3zM765 710h2v1h-2zM546 753h3v1h-3zM943 753h3v1h-3zM362 650h2v1h-2zM406 650h4v1h-4zM654 650h3v1h-3zM664 650h2v1h-2zM1012 650h2v1h-2zM378 641h4v1h-4zM1271 641h6v1h-6zM1465 641h2v1h-2zM222 712h3v1h-3zM769 712h2v1h-2zM774 712h4v1h-4zM1282 638h4v1h-4zM115 673h2v1h-2zM123 673h2v1h-2zM831 673h13v1h-13zM27 740h3v1h-3zM923 740h5v1h-5zM961 740h2v1h-2zM231 717h3v1h-3zM1106 717h2v1h-2zM1415 632h3v1h-3zM316 662h2v1h-2zM435 662h7v1h-7zM687 662h3v1h-3zM458 670h4v1h-4zM478 670h11v1h-11zM815 670h2v1h-2zM825 670h2v1h-2zM938 760h2v1h-2zM85 696h2v1h-2zM730 696h2v1h-2zM879 696h5v1h-5zM1071 696h11v1h-11zM83 697h2v1h-2zM732 697h2v1h-2zM125 672h2v1h-2zM129 672h2v1h-2zM829 672h2v1h-2zM1476 636h2v1h-2zM955 743h2v1h-2zM151 691h5v1h-5zM705 691h2v1h-2zM868 691h2v1h-2zM197 707h2v1h-2zM759 707h2v1h-2zM271 676h2v1h-2zM957 742h2v1h-2zM172 722h2v1h-2zM209 709h2v1h-2zM763 709h2v1h-2zM356 653h2v1h-2zM415 653h2v1h-2zM647 653h2v1h-2zM670 653h4v1h-4zM676 653h2v1h-2zM707 692h5v1h-5zM560 759h2v1h-2zM1286 637h6v1h-6zM127 671h2v1h-2zM628 671h2v1h-2zM827 671h2v1h-2zM57 703h2v1h-2zM1054 703h2v1h-2zM856 683h2v1h-2zM30 741h2v1h-2zM959 741h2v1h-2zM359 651h3v1h-3zM410 651h3v1h-3zM651 651h3v1h-3zM146 689h3v1h-3zM1233 620h2v1h-2zM1212 603h2v1h-2zM23 738h2v1h-2zM715 695h3v1h-3zM727 695h3v1h-3zM877 695h2v1h-2zM1082 695h6v1h-6zM387 646h3v1h-3zM999 646h2v1h-2zM149 690h2v1h-2zM703 690h2v1h-2zM451 667h2v1h-2zM493 667h2v1h-2zM861 686h2v1h-2zM442 663h4v1h-4zM690 663h2v1h-2zM402 649h4v1h-4zM657 649h2v1h-2zM662 649h2v1h-2zM551 755h2v1h-2zM539 752h7v1h-7zM946 752h2v1h-2zM55 702h2v1h-2zM1050 702h4v1h-4zM81 698h2v1h-2zM103 680h3v1h-3zM851 680h2v1h-2zM79 699h2v1h-2zM735 699h2v1h-2zM743 699h9v1h-9zM1043 699h2v1h-2zM1455 643h3v1h-3zM531 748h2v1h-2zM413 652h2v1h-2zM649 652h2v1h-2zM667 652h3v1h-3zM674 652h2v1h-2zM242 714h4v1h-4zM1099 714h2v1h-2zM1228 619h2v1h-2zM1235 619h3v1h-3zM268 678h2v1h-2zM178 723h2v1h-2zM371 640h7v1h-7zM1277 640h2v1h-2zM1467 640h5v1h-5zM453 668h2v1h-2zM466 668h4v1h-4zM491 668h2v1h-2zM819 668h3v1h-3zM303 664h6v1h-6zM345 664h2v1h-2zM446 664h2v1h-2zM636 664h2v1h-2zM382 642h2v1h-2zM1458 642h7v1h-7zM326 657h3v1h-3zM425 657h2v1h-2zM1438 657h6v1h-6zM228 715h2v1h-2zM238 715h4v1h-4zM1101 715h2v1h-2zM1147 725h2v1h-2zM195 708h2v1h-2zM207 708h2v1h-2zM761 708h2v1h-2zM76 701h2v1h-2zM739 701h2v1h-2zM1047 701h3v1h-3zM1223 616h2v1h-2zM1243 616h5v1h-5zM915 746h3v1h-3zM67 706h5v1h-5zM199 706h3v1h-3zM204 706h2v1h-2zM1059 706h2v1h-2zM455 669h3v1h-3zM462 669h4v1h-4zM470 669h8v1h-8zM489 669h2v1h-2zM817 669h2v1h-2zM822 669h3v1h-3zM712 693h2v1h-2zM721 693h2v1h-2zM724 693h2v1h-2zM871 693h3v1h-3zM106 681h2v1h-2zM853 681h2v1h-2zM297 659h2v1h-2zM321 659h2v1h-2zM331 659h2v1h-2zM430 659h2v1h-2zM1339 785h2v1h-2zM394 648h8v1h-8zM659 648h3v1h-3zM1207 602h5v1h-5zM184 718h2v1h-2zM495 666h3v1h-3zM506 666h2v1h-2zM1001 645h2v1h-2zM553 756h2v1h-2zM1323 756h3v1h-3zM234 716h4v1h-4zM1103 716h3v1h-3zM737 700h2v1h-2zM741 700h2v1h-2zM1045 700h2v1h-2zM918 745h2v1h-2zM952 745h2v1h-2zM1130 745h4v1h-4zM419 655h3v1h-3zM112 675h2v1h-2zM119 675h2v1h-2zM273 675h2v1h-2zM25 739h2v1h-2zM335 661h5v1h-5zM685 661h2v1h-2zM59 704h6v1h-6zM1056 704h2v1h-2zM1268 639h2v1h-2zM1279 639h3v1h-3zM1472 639h2v1h-2zM537 751h2v1h-2zM422 656h3v1h-3zM1435 656h3v1h-3zM390 647h4v1h-4zM549 754h2v1h-2zM96 677h2v1h-2zM1028 677h2v1h-2zM417 654h2v1h-2zM1432 654h2v1h-2zM556 758h2v1h-2zM718 694h3v1h-3zM874 694h3v1h-3zM1003 644h5v1h-5zM1200 607h2v1h-2zM859 685h2v1h-2zM890 687h2v1h-2zM1231 621h2v1h-2zM117 674h2v1h-2zM121 674h2v1h-2zM624 674h2v1h-2zM844 674h2v1h-2zM1225 617h2v1h-2zM1241 617h2v1h-2zM1418 633h2v1h-2zM1318 766h2v1h-2zM533 749h2v1h-2zM535 750h2v1h-2zM1356 812h2v1h-2zM1238 618h3v1h-3zM1195 610h2v1h-2zM1197 609h2v1h-2zM1342 783h2v1h-2zM1204 604h2v1h-2zM7 681h1v5h-1zM162 705h1v2h-1zM967 722h1v3h-1zM519 712h1v4h-1zM1377 744h1v5h-1zM522 723h1v3h-1zM1393 687h1v3h-1zM1032 681h1v2h-1zM555 757h1v1h-1zM1292 640h1v4h-1zM1352 807h1v2h-1zM895 708h1v5h-1zM626 673h1v1h-1zM1186 631h1v3h-1zM1381 726h1v4h-1zM1367 790h1v4h-1zM515 695h1v5h-1zM1398 670h1v3h-1zM913 742h1v2h-1zM979 686h1v3h-1zM1333 770h1v3h-1zM1388 704h1v4h-1zM6 675h1v6h-1zM1125 742h1v1h-1zM17 721h1v4h-1zM1305 707h1v5h-1zM618 681h1v2h-1zM155 692h1v1h-1zM1315 758h1v3h-1zM1126 743h1v1h-1zM158 697h1v2h-1zM1266 637h1v1h-1zM1299 668h1v6h-1zM74 703h1v1h-1zM20 731h1v2h-1zM139 683h1v1h-1zM797 688h1v2h-1zM23 737h1v1h-1zM1371 771h1v5h-1zM1337 780h1v3h-1zM1190 620h1v3h-1zM698 681h1v3h-1zM966 725h1v4h-1zM792 695h1v2h-1zM1392 690h1v4h-1zM1024 671h1v2h-1zM261 686h1v2h-1zM1428 648h1v2h-1zM609 695h1v1h-1zM942 754h1v2h-1zM525 731h1v3h-1zM1136 742h1v2h-1zM1042 698h1v1h-1zM905 728h1v2h-1zM1366 794h1v2h-1zM1184 638h1v3h-1zM50 708h1v2h-1zM529 742h1v2h-1zM970 712h1v3h-1zM1250 619h1v1h-1zM891 686h1v1h-1zM891 688h1v2h-1zM1387 708h1v3h-1zM267 679h1v1h-1zM586 724h1v1h-1zM182 720h1v1h-1zM1450 648h1v2h-1zM1396 677h1v3h-1zM978 689h1v2h-1zM602 704h1v2h-1zM886 692h1v1h-1zM93 682h1v2h-1zM632 668h1v1h-1zM1020 664h1v2h-1zM1301 682h1v7h-1zM1179 655h1v3h-1zM1031 679h1v2h-1zM1350 803h1v2h-1zM1384 716h1v3h-1zM1412 636h1v2h-1zM1168 683h1v2h-1zM791 697h1v1h-1zM897 715h1v2h-1zM38 725h1v2h-1zM513 686h1v5h-1zM1351 805h1v2h-1zM608 696h1v2h-1zM1109 719h1v2h-1zM1088 696h1v2h-1zM1091 701h1v1h-1zM1176 665h1v4h-1zM1113 725h1v2h-1zM1332 768h1v2h-1zM969 715h1v4h-1zM1297 660h1v4h-1zM639 662h1v1h-1zM783 706h1v1h-1zM137 680h1v2h-1zM693 667h1v3h-1zM156 693h1v2h-1zM1395 680h1v3h-1zM682 659h1v1h-1zM1379 734h1v5h-1zM893 696h1v6h-1zM580 733h1v2h-1zM814 671h1v1h-1zM520 716h1v3h-1zM1158 709h1v2h-1zM282 666h1v1h-1zM997 648h1v2h-1zM1426 645h1v2h-1zM523 726h1v3h-1zM1382 722h1v4h-1zM576 739h1v2h-1zM964 733h1v4h-1zM1293 644h1v4h-1zM1187 628h1v3h-1zM870 692h1v1h-1zM1411 638h1v1h-1zM351 658h1v1h-1zM1430 651h1v2h-1zM524 729h1v2h-1zM88 692h1v2h-1zM1167 685h1v3h-1zM1310 732h1v6h-1zM1154 716h1v2h-1zM37 727h1v2h-1zM111 676h1v1h-1zM1166 688h1v3h-1zM903 725h1v1h-1zM981 681h1v3h-1zM1390 697h1v4h-1zM530 744h1v3h-1zM993 655h1v2h-1zM1270 640h1v1h-1zM1328 760h1v2h-1zM1407 645h1v2h-1zM516 700h1v4h-1zM254 701h1v2h-1zM968 719h1v3h-1zM1345 788h1v4h-1zM1378 739h1v5h-1zM1335 775h1v3h-1zM1394 683h1v4h-1zM1018 659h1v3h-1zM564 756h1v1h-1zM1019 662h1v2h-1zM1063 704h1v1h-1zM1089 698h1v1h-1zM1368 785h1v5h-1zM1153 718h1v2h-1zM972 706h1v3h-1zM963 737h1v3h-1zM1165 691h1v3h-1zM1138 739h1v2h-1zM1090 699h1v2h-1zM87 694h1v2h-1zM1303 697h1v6h-1zM992 657h1v2h-1zM1194 611h1v2h-1zM1312 743h1v5h-1zM680 656h1v1h-1zM102 679h1v1h-1zM1296 656h1v4h-1zM1406 647h1v2h-1zM366 645h1v2h-1zM681 657h1v2h-1zM692 665h1v2h-1zM892 690h1v6h-1zM253 703h1v2h-1zM1070 697h1v1h-1zM951 746h1v1h-1zM1181 648h1v3h-1zM614 687h1v2h-1zM165 711h1v2h-1zM1217 608h1v1h-1zM249 710h1v2h-1zM631 669h1v1h-1zM1178 658h1v4h-1zM1202 606h1v1h-1zM971 709h1v3h-1zM1326 757h1v1h-1zM804 681h1v1h-1zM1137 741h1v1h-1zM785 703h1v2h-1zM1327 758h1v2h-1zM1397 673h1v4h-1zM341 663h1v1h-1zM1193 613h1v2h-1zM98 676h1v1h-1zM780 710h1v1h-1zM1172 675h1v2h-1zM1363 801h1v2h-1zM1161 702h1v3h-1zM73 704h1v1h-1zM796 690h1v1h-1zM950 747h1v2h-1zM1017 657h1v2h-1zM1308 721h1v6h-1zM511 678h1v4h-1zM1401 660h1v4h-1zM39 723h1v2h-1zM931 747h1v2h-1zM808 677h1v1h-1zM849 678h1v1h-1zM1295 652h1v4h-1zM276 673h1v1h-1zM13 707h1v4h-1zM645 655h1v2h-1zM1454 644h1v1h-1zM585 725h1v2h-1zM187 716h1v1h-1zM640 661h1v1h-1zM601 706h1v2h-1zM1362 803h1v2h-1zM697 678h1v3h-1zM92 684h1v2h-1zM1160 705h1v2h-1zM985 672h1v2h-1zM1219 611h1v1h-1zM164 709h1v2h-1zM42 720h1v1h-1zM597 712h1v2h-1zM1347 796h1v3h-1zM974 699h1v3h-1zM1034 685h1v2h-1zM194 709h1v1h-1zM1035 687h1v2h-1zM1375 754h1v5h-1zM514 691h1v4h-1zM1252 621h1v1h-1zM1253 622h1v1h-1zM644 657h1v1h-1zM34 734h1v2h-1zM5 670h1v5h-1zM1408 643h1v2h-1zM290 659h1v1h-1zM18 725h1v3h-1zM1300 674h1v8h-1zM1009 646h1v2h-1zM1317 763h1v2h-1zM1361 805h1v2h-1zM22 735h1v2h-1zM281 667h1v1h-1zM510 675h1v3h-1zM973 702h1v4h-1zM11 699h1v4h-1zM929 743h1v2h-1zM350 659h1v1h-1zM922 741h1v1h-1zM1041 697h1v1h-1zM619 680h1v1h-1zM1175 669h1v2h-1zM33 736h1v2h-1zM568 751h1v1h-1zM1320 763h1v3h-1zM1146 726h1v2h-1zM1475 637h1v1h-1zM563 757h1v1h-1zM1403 654h1v3h-1zM1346 792h1v4h-1zM1142 733h1v2h-1zM1033 683h1v2h-1zM1353 809h1v2h-1zM896 713h1v2h-1zM899 719h1v1h-1zM622 676h1v1h-1zM1199 608h1v1h-1zM921 742h1v2h-1zM300 661h1v1h-1zM14 711h1v4h-1zM1255 624h1v1h-1zM1112 723h1v2h-1zM1174 671h1v2h-1zM1334 773h1v2h-1zM889 688h1v2h-1zM136 679h1v1h-1zM180 722h1v1h-1zM1448 651h1v2h-1zM988 665h1v2h-1zM248 712h1v1h-1zM630 670h1v1h-1zM10 695h1v4h-1zM1302 689h1v8h-1zM789 699h1v1h-1zM526 734h1v2h-1zM1429 650h1v1h-1zM606 699h1v1h-1zM257 694h1v3h-1zM591 719h1v1h-1zM906 730h1v2h-1zM784 705h1v1h-1zM1380 730h1v4h-1zM800 685h1v1h-1zM78 700h1v1h-1zM1372 767h1v4h-1zM364 648h1v2h-1zM795 691h1v1h-1zM949 749h1v1h-1zM1447 653h1v1h-1zM1189 623h1v2h-1zM43 719h1v1h-1zM1021 666h1v2h-1zM280 668h1v1h-1zM1157 711h1v2h-1zM1354 811h1v2h-1zM260 688h1v2h-1zM898 717h1v2h-1zM807 678h1v1h-1zM275 674h1v1h-1zM589 721h1v1h-1zM191 711h1v1h-1zM1092 702h1v2h-1zM1114 727h1v2h-1zM1117 732h1v2h-1zM1298 664h1v4h-1zM138 682h1v1h-1zM157 695h1v2h-1zM287 661h1v1h-1zM1064 703h1v1h-1zM596 714h1v1h-1zM521 719h1v4h-1zM1291 638h1v2h-1zM1216 606h1v2h-1zM1188 625h1v3h-1zM1427 647h1v1h-1zM1383 719h1v3h-1zM1294 648h1v4h-1zM1431 653h1v1h-1zM1400 664h1v3h-1zM907 732h1v1h-1zM531 747h1v1h-1zM911 738h1v2h-1zM1249 618h1v1h-1zM908 733h1v2h-1zM255 699h1v2h-1zM517 704h1v4h-1zM1343 782h1v1h-1zM1307 716h1v5h-1zM569 749h1v2h-1zM1068 699h1v1h-1zM358 652h1v1h-1zM617 683h1v1h-1zM1370 776h1v5h-1zM1420 634h1v2h-1zM1399 667h1v3h-1zM941 756h1v2h-1zM933 751h1v2h-1zM1115 729h1v1h-1zM980 684h1v2h-1zM1094 705h1v2h-1zM1374 759h1v4h-1zM623 675h1v1h-1zM1313 748h1v5h-1zM1365 796h1v3h-1zM1011 649h1v1h-1zM140 684h1v1h-1zM266 680h1v1h-1zM1386 711h1v3h-1zM977 691h1v3h-1zM181 721h1v1h-1zM141 685h1v2h-1zM794 692h1v2h-1zM948 750h1v2h-1zM8 686h1v4h-1zM166 713h1v2h-1zM1218 609h1v2h-1zM1349 801h1v2h-1zM1309 727h1v5h-1zM1141 735h1v1h-1zM627 672h1v1h-1zM790 698h1v1h-1zM909 735h1v1h-1zM188 715h1v1h-1zM4 664h1v6h-1zM910 736h1v2h-1zM607 698h1v1h-1zM1251 620h1v1h-1zM1452 646h1v1h-1zM48 711h1v2h-1zM638 663h1v1h-1zM1306 712h1v4h-1zM987 667h1v3h-1zM598 711h1v1h-1zM793 694h1v1h-1zM813 672h1v1h-1zM1376 749h1v5h-1zM1402 657h1v3h-1zM1206 603h1v1h-1zM610 693h1v2h-1zM788 700h1v1h-1zM935 755h1v1h-1zM1257 626h1v1h-1zM1410 639h1v2h-1zM590 720h1v1h-1zM932 749h1v2h-1zM1096 708h1v2h-1zM1389 701h1v3h-1zM518 708h1v4h-1zM142 687h1v1h-1zM582 729h1v2h-1zM206 707h1v1h-1zM318 661h1v1h-1zM168 716h1v2h-1zM279 669h1v1h-1zM1358 811h1v1h-1zM1156 713h1v2h-1zM578 736h1v2h-1zM1152 720h1v2h-1zM574 742h1v2h-1zM1164 694h1v3h-1zM299 660h1v1h-1zM1304 703h1v4h-1zM256 697h1v2h-1zM1322 757h1v3h-1zM1314 753h1v5h-1zM1254 623h1v1h-1zM1336 778h1v2h-1zM286 662h1v1h-1zM160 701h1v2h-1zM252 705h1v2h-1zM1318 765h1v1h-1zM894 702h1v6h-1zM355 654h1v1h-1zM1180 651h1v4h-1zM1140 736h1v2h-1zM1155 715h1v1h-1zM577 738h1v1h-1zM1311 738h1v5h-1zM1259 628h1v1h-1zM1260 629h1v2h-1zM1151 722h1v2h-1zM1192 615h1v2h-1zM616 684h1v2h-1zM1016 654h1v3h-1zM251 707h1v2h-1zM1171 677h1v2h-1zM72 705h1v1h-1zM170 719h1v2h-1zM1222 615h1v1h-1zM612 690h1v2h-1zM1391 694h1v3h-1zM940 758h1v2h-1zM1434 655h1v1h-1zM370 641h1v1h-1zM53 704h1v2h-1zM801 684h1v1h-1zM342 664h1v1h-1zM365 647h1v1h-1zM1116 730h1v2h-1zM1183 641h1v3h-1zM95 678h1v2h-1zM798 687h1v1h-1zM159 699h1v2h-1zM1319 767h1v1h-1zM265 681h1v1h-1zM884 695h1v1h-1zM635 665h1v1h-1zM1191 617h1v3h-1zM615 686h1v1h-1zM91 686h1v2h-1zM1170 679h1v2h-1zM699 684h1v2h-1zM984 674h1v2h-1zM311 666h1v1h-1zM805 680h1v1h-1zM1451 647h1v1h-1zM954 744h1v1h-1zM781 708h1v2h-1zM47 713h1v1h-1zM1182 644h1v4h-1zM1014 651h1v1h-1zM94 680h1v2h-1zM1015 652h1v2h-1zM1220 612h1v1h-1zM1385 714h1v2h-1zM1169 681h1v2h-1zM812 673h1v1h-1zM1421 636h1v2h-1zM90 688h1v2h-1zM1022 668h1v2h-1zM1025 673h1v1h-1zM1414 633h1v2h-1zM983 676h1v3h-1zM512 682h1v4h-1zM1355 813h1v1h-1zM902 723h1v2h-1zM1177 662h1v3h-1zM3 661h1v3h-1zM109 678h1v2h-1zM349 660h1v2h-1zM1118 734h1v2h-1zM641 660h1v1h-1zM1069 698h1v1h-1zM694 670h1v2h-1zM1010 648h1v1h-1zM1341 784h1v1h-1zM9 690h1v5h-1zM1227 618h1v1h-1zM701 687h1v2h-1zM562 758h1v1h-1zM89 690h1v2h-1zM982 679h1v2h-1zM994 653h1v2h-1zM573 744h1v1h-1zM1185 634h1v4h-1zM734 698h1v1h-1zM348 662h1v1h-1zM621 677h1v2h-1zM1329 762h1v2h-1zM912 740h1v2h-1zM1344 784h1v4h-1zM19 728h1v3h-1zM965 729h1v4h-1zM1023 670h1v1h-1zM1423 640h1v1h-1zM1027 676h1v1h-1zM753 701h1v1h-1zM900 720h1v2h-1zM12 703h1v4h-1zM434 661h1v1h-1zM904 726h1v2h-1zM301 662h1v1h-1zM1453 645h1v1h-1zM934 753h1v2h-1zM1256 625h1v1h-1zM1098 712h1v2h-1zM605 700h1v2h-1zM723 692h1v1h-1zM620 679h1v1h-1zM1163 697h1v3h-1zM666 651h1v1h-1zM46 714h1v2h-1zM250 709h1v1h-1zM611 692h1v1h-1zM847 676h1v1h-1zM866 689h1v1h-1zM259 690h1v2h-1zM848 677h1v1h-1zM369 642h1v1h-1zM52 706h1v1h-1zM1037 691h1v2h-1zM1373 763h1v4h-1zM643 658h1v1h-1zM588 722h1v1h-1zM1331 766h1v2h-1zM1364 799h1v2h-1zM888 690h1v1h-1zM270 677h1v1h-1zM583 728h1v1h-1zM1162 700h1v2h-1zM634 666h1v1h-1zM976 694h1v2h-1zM509 671h1v4h-1zM1444 656h1v1h-1zM579 735h1v1h-1zM40 722h1v1h-1zM1058 705h1v1h-1zM595 715h1v1h-1zM996 650h1v1h-1zM1093 704h1v1h-1zM936 756h1v2h-1zM36 729h1v2h-1zM1097 710h1v2h-1zM1258 627h1v1h-1zM230 716h1v1h-1zM1122 739h1v1h-1zM1262 632h1v2h-1zM132 674h1v1h-1zM1474 638h1v1h-1zM284 664h1v1h-1zM975 696h1v3h-1zM1348 799h1v2h-1zM558 759h1v1h-1zM384 643h1v1h-1zM169 718h1v1h-1zM1221 613h1v2h-1zM1413 635h1v1h-1zM559 760h1v1h-1zM1036 689h1v2h-1zM995 651h1v2h-1zM108 680h1v1h-1zM1039 695h1v1h-1zM850 679h1v1h-1zM1409 641h1v2h-1zM16 718h1v3h-1zM35 731h1v3h-1zM991 659h1v2h-1zM1405 649h1v3h-1zM507 667h1v1h-1zM566 753h1v1h-1zM1144 730h1v2h-1zM161 703h1v2h-1zM1065 702h1v1h-1zM508 668h1v3h-1zM352 657h1v1h-1zM528 739h1v3h-1zM937 758h1v1h-1zM938 759h1v1h-1zM368 643h1v1h-1zM1261 631h1v1h-1zM990 661h1v2h-1zM1321 760h1v3h-1zM134 677h1v1h-1zM263 683h1v1h-1zM167 715h1v1h-1zM1143 732h1v1h-1zM565 754h1v2h-1zM1230 620h1v1h-1zM171 721h1v1h-1zM385 644h1v1h-1zM386 645h1v1h-1zM450 666h1v1h-1zM806 679h1v1h-1zM930 745h1v2h-1zM787 701h1v1h-1zM15 715h1v3h-1zM227 714h1v1h-1zM782 707h1v1h-1zM75 702h1v1h-1zM989 663h1v2h-1zM714 694h1v1h-1zM696 675h1v3h-1zM163 707h1v2h-1zM600 708h1v2h-1zM581 731h1v2h-1zM262 684h1v2h-1zM1159 707h1v2h-1zM755 703h1v1h-1zM1369 781h1v4h-1zM810 675h1v1h-1zM756 704h1v1h-1zM1030 678h1v1h-1zM258 692h1v2h-1zM855 682h1v1h-1zM278 670h1v1h-1zM110 677h1v1h-1zM527 736h1v3h-1zM1108 718h1v1h-1zM642 659h1v1h-1zM587 723h1v1h-1zM189 713h1v2h-1zM914 744h1v2h-1zM726 694h1v1h-1zM603 703h1v1h-1zM1316 761h1v2h-1zM21 733h1v2h-1zM44 717h1v2h-1zM1338 783h1v2h-1zM285 663h1v1h-1zM599 710h1v1h-1zM1360 807h1v2h-1zM1422 638h1v2h-1zM354 655h1v1h-1zM594 716h1v1h-1zM928 741h1v2h-1zM1425 643h1v2h-1zM315 663h1v1h-1zM1026 674h1v2h-1zM277 671h1v2h-1zM1119 736h1v1h-1zM32 738h1v2h-1zM695 672h1v3h-1zM1145 728h1v2h-1zM1066 701h1v1h-1zM757 705h1v1h-1zM1359 809h1v2h-1zM758 706h1v1h-1zM846 675h1v1h-1zM1110 721h1v1h-1zM1111 722h1v1h-1zM1124 741h1v1h-1zM1264 635h1v1h-1zM1265 636h1v1h-1zM679 655h1v1h-1zM101 677h1v2h-1zM1330 764h1v2h-1zM570 748h1v1h-1zM1173 673h1v2h-1zM31 740h1v1h-1zM264 682h1v1h-1zM1424 641h1v2h-1zM1139 738h1v1h-1zM901 722h1v1h-1zM367 644h1v1h-1zM302 663h1v1h-1zM186 717h1v1h-1zM1120 737h1v1h-1zM340 662h1v1h-1zM1121 738h1v1h-1zM131 673h1v1h-1zM1445 655h1v1h-1zM1404 652h1v2h-1zM700 686h1v1h-1zM41 721h1v1h-1zM986 670h1v2h-1zM1203 605h1v1h-1zM811 674h1v1h-1zM593 717h1v1h-1zM786 702h1v1h-1zM99 675h1v1h-1zM1038 693h1v2h-1zM802 683h1v1h-1zM100 676h1v1h-1zM49 710h1v1h-1zM1267 638h1v1h-1zM885 693h1v2h-1zM1214 604h1v1h-1zM1215 605h1v1h-1zM752 700h1v1h-1zM174 723h1v1h-1zM809 676h1v1h-1zM646 654h1v1h-1zM572 745h1v2h-1zM567 752h1v1h-1zM133 675h1v2h-1zM702 689h1v1h-1zM353 656h1v1h-1zM314 664h1v1h-1zM575 741h1v1h-1zM858 684h1v1h-1zM920 744h1v1h-1zM1478 635h1v1h-1zM691 664h1v1h-1zM754 702h1v1h-1zM1095 707h1v1h-1zM939 761h1v1h-1zM51 707h1v1h-1zM799 686h1v1h-1zM183 719h1v1h-1zM135 678h1v1h-1zM887 691h1v1h-1zM1446 654h1v1h-1zM613 689h1v1h-1zM633 667h1v1h-1zM867 690h1v1h-1zM54 703h1v1h-1zM190 712h1v1h-1zM604 702h1v1h-1zM803 682h1v1h-1zM1449 650h1v1h-1zM45 716h1v1h-1zM283 665h1v1h-1zM998 647h1v1h-1zM863 687h1v1h-1zM592 718h1v1h-1zM347 663h1v1h-1zM1123 740h1v1h-1zM1263 634h1v1h-1zM584 727h1v1h-1zM678 654h1v1h-1zM1008 645h1v1h-1zM1067 700h1v1h-1zM1339 786h1v1h-1zM114 674h1v1h-1zM1040 696h1v1h-1zM1323 755h1v1h-1zM571 747h1v1h-1zM1248 617h1v1h-1zM1479 634h1v1h-1z"/>
<path fill="#00008b" d="M3 661h1v55h-1zM7 683h1v33h-1zM11 701h1v15h-1zM15 715h1v2h-1zM19 715h1v15h-1zM23 715h1v24h-1zM27 715h1v26h-1zM31 715h1v27h-1zM35 715h1v18h-1zM39 715h1v9h-1zM43 715h1v5h-1zM47 713h1v3h-1zM51 707h1v9h-1zM55 702h1v14h-1zM59 704h1v12h-1zM63 704h1v12h-1zM67 706h1v10h-1zM71 706h1v10h-1zM75 702h1v14h-1zM79 699h1v17h-1zM83 697h1v19h-1zM87 695h1v21h-1zM91 687h1v29h-1zM95 678h1v38h-1zM99 675h1v41h-1zM103 680h1v36h-1zM107 681h1v35h-1zM111 676h1v40h-1zM115 673h1v43h-1zM119 675h1v41h-1zM123 673h1v43h-1zM127 671h1v45h-1zM131 673h1v43h-1zM135 678h1v38h-1zM139 683h1v33h-1zM143 688h1v28h-1zM147 689h1v27h-1zM151 691h1v25h-1zM155 691h1v25h-1zM159 699h1v17h-1zM163 707h1v9h-1zM167 715h1v1h-1zM171 715h1v7h-1zM175 715h1v10h-1zM179 715h1v9h-1zM183 715h1v5h-1zM187 715h1v2h-1zM191 711h1v5h-1zM195 708h1v8h-1zM199 706h1v10h-1zM203 705h1v11h-1zM207 708h1v8h-1zM211 710h1v6h-1zM215 711h1v5h-1zM219 711h1v5h-1zM223 712h1v4h-1zM227 714h1v2h-1zM231 715h1v3h-1zM235 715h1v2h-1zM239 715h1v1h-1zM243 714h1v2h-1zM247 713h1v3h-1zM251 708h1v8h-1zM255 700h1v16h-1zM259 690h1v26h-1zM263 683h1v33h-1zM267 679h1v37h-1zM271 676h1v40h-1zM275 674h1v42h-1zM279 669h1v47h-1zM283 665h1v51h-1zM287 661h1v55h-1zM291 658h1v58h-1zM295 658h1v58h-1zM299 660h1v56h-1zM303 664h1v52h-1zM307 664h1v52h-1zM311 666h1v50h-1zM315 663h1v53h-1zM319 660h1v56h-1zM323 658h1v58h-1zM327 657h1v59h-1zM331 659h1v57h-1zM335 661h1v55h-1zM339 661h1v55h-1zM343 665h1v51h-1zM347 663h1v53h-1zM351 658h1v58h-1zM355 654h1v62h-1zM359 651h1v65h-1zM363 650h1v66h-1zM367 644h1v72h-1zM371 640h1v76h-1zM375 640h1v76h-1zM379 641h1v75h-1zM383 642h1v74h-1zM387 646h1v70h-1zM391 647h1v69h-1zM395 648h1v68h-1zM399 648h1v68h-1zM403 649h1v67h-1zM407 650h1v66h-1zM411 651h1v65h-1zM415 653h1v63h-1zM419 655h1v61h-1zM423 656h1v60h-1zM427 658h1v58h-1zM431 659h1v57h-1zM435 662h1v54h-1zM439 662h1v54h-1zM443 663h1v53h-1zM447 664h1v52h-1zM451 667h1v49h-1zM455 669h1v47h-1zM459 670h1v46h-1zM463 669h1v47h-1zM467 668h1v48h-1zM471 669h1v47h-1zM475 669h1v47h-1zM479 670h1v46h-1zM483 670h1v46h-1zM487 670h1v46h-1zM491 668h1v48h-1zM495 666h1v50h-1zM499 665h1v51h-1zM503 665h1v51h-1zM507 666h1v50h-1zM511 679h1v37h-1zM515 697h1v19h-1zM519 714h1v2h-1zM523 715h1v13h-1zM527 715h1v23h-1zM531 715h1v34h-1zM535 715h1v36h-1zM539 715h1v38h-1zM543 715h1v38h-1zM547 715h1v39h-1zM551 715h1v41h-1zM555 715h1v43h-1zM559 715h1v46h-1zM563 715h1v43h-1zM567 715h1v38h-1zM571 715h1v33h-1zM575 715h1v27h-1zM579 715h1v21h-1zM583 715h1v14h-1zM587 715h1v9h-1zM591 715h1v5h-1zM595 715h1v1h-1zM599 710h1v6h-1zM603 703h1v13h-1zM607 698h1v18h-1zM611 692h1v24h-1zM615 686h1v30h-1zM619 680h1v36h-1zM623 675h1v41h-1zM627 672h1v44h-1zM631 669h1v47h-1zM635 665h1v51h-1zM639 662h1v54h-1zM643 658h1v58h-1zM647 653h1v63h-1zM651 651h1v65h-1zM655 650h1v66h-1zM659 648h1v68h-1zM663 649h1v67h-1zM667 652h1v64h-1zM671 653h1v63h-1zM675 652h1v64h-1zM679 655h1v61h-1zM683 660h1v56h-1zM687 662h1v54h-1zM691 663h1v53h-1zM695 673h1v43h-1zM699 685h1v31h-1zM703 690h1v26h-1zM707 692h1v24h-1zM711 692h1v24h-1zM715 695h1v21h-1zM719 694h1v22h-1zM723 692h1v24h-1zM727 695h1v21h-1zM731 696h1v20h-1zM735 699h1v17h-1zM739 701h1v15h-1zM743 699h1v17h-1zM747 699h1v17h-1zM751 699h1v17h-1zM755 703h1v13h-1zM759 707h1v9h-1zM763 709h1v7h-1zM767 711h1v5h-1zM771 713h1v3h-1zM775 712h1v4h-1zM779 711h1v5h-1zM783 706h1v10h-1zM787 701h1v15h-1zM791 697h1v19h-1zM795 691h1v25h-1zM799 686h1v30h-1zM803 682h1v34h-1zM807 678h1v38h-1zM811 674h1v42h-1zM815 670h1v46h-1zM819 668h1v48h-1zM823 669h1v47h-1zM827 671h1v45h-1zM831 673h1v43h-1zM835 673h1v43h-1zM839 673h1v43h-1zM843 673h1v43h-1zM847 676h1v40h-1zM851 680h1v36h-1zM855 682h1v34h-1zM859 685h1v31h-1zM863 687h1v29h-1zM867 690h1v26h-1zM871 693h1v23h-1zM875 694h1v22h-1zM879 696h1v20h-1zM883 696h1v20h-1zM887 691h1v25h-1zM891 686h1v30h-1zM895 711h1v5h-1zM899 715h1v5h-1zM903 715h1v11h-1zM907 715h1v18h-1zM911 715h1v24h-1zM915 715h1v32h-1zM919 715h1v31h-1zM923 715h1v26h-1zM927 715h1v26h-1zM931 715h1v33h-1zM935 715h1v41h-1zM939 715h1v47h-1zM943 715h1v39h-1zM947 715h1v38h-1zM951 715h1v32h-1zM955 715h1v29h-1zM959 715h1v27h-1zM963 715h1v25h-1zM967 715h1v9h-1zM971 710h1v6h-1zM975 697h1v19h-1zM979 687h1v29h-1zM983 677h1v39h-1zM987 668h1v48h-1zM991 660h1v56h-1zM995 651h1v65h-1zM999 646h1v70h-1zM1003 644h1v72h-1zM1007 644h1v72h-1zM1011 649h1v67h-1zM1015 652h1v64h-1zM1019 663h1v53h-1zM1023 670h1v46h-1zM1027 676h1v40h-1zM1031 679h1v37h-1zM1035 687h1v29h-1zM1039 695h1v21h-1zM1043 699h1v17h-1zM1047 701h1v15h-1zM1051 702h1v14h-1zM1055 703h1v13h-1zM1059 706h1v10h-1zM1063 704h1v12h-1zM1067 700h1v16h-1zM1071 696h1v20h-1zM1075 696h1v20h-1zM1079 696h1v20h-1zM1083 695h1v21h-1zM1087 695h1v21h-1zM1091 701h1v15h-1zM1095 707h1v9h-1zM1099 714h1v2h-1zM1103 715h1v2h-1zM1107 715h1v3h-1zM1111 715h1v8h-1zM1115 715h1v15h-1zM1119 715h1v22h-1zM1123 715h1v26h-1zM1127 715h1v30h-1zM1131 715h1v31h-1zM1135 715h1v30h-1zM1139 715h1v24h-1zM1143 715h1v18h-1zM1147 715h1v11h-1zM1151 715h1v9h-1zM1155 715h1v1h-1zM1159 708h1v8h-1zM1163 698h1v18h-1zM1167 686h1v30h-1zM1171 678h1v38h-1zM1175 670h1v46h-1zM1179 656h1v60h-1zM1183 642h1v74h-1zM1187 629h1v87h-1zM1191 618h1v98h-1zM1195 610h1v106h-1zM1199 608h1v108h-1zM1203 605h1v111h-1zM1207 602h1v114h-1zM1211 602h1v114h-1zM1215 605h1v111h-1zM1219 611h1v105h-1zM1223 616h1v100h-1zM1227 618h1v98h-1zM1231 621h1v95h-1zM1235 619h1v97h-1zM1239 618h1v98h-1zM1243 616h1v100h-1zM1247 616h1v100h-1zM1251 620h1v96h-1zM1255 624h1v92h-1zM1259 628h1v88h-1zM1263 634h1v82h-1zM1267 638h1v78h-1zM1271 641h1v75h-1zM1275 641h1v75h-1zM1279 639h1v77h-1zM1283 638h1v78h-1zM1287 637h1v79h-1zM1291 637h1v79h-1zM1295 653h1v63h-1zM1299 670h1v46h-1zM1303 700h1v16h-1zM1307 715h1v4h-1zM1311 715h1v26h-1zM1315 715h1v46h-1zM1319 715h1v53h-1zM1323 715h1v41h-1zM1327 715h1v44h-1zM1331 715h1v52h-1zM1335 715h1v62h-1zM1339 715h1v72h-1zM1343 715h1v68h-1zM1347 715h1v83h-1zM1351 715h1v91h-1zM1355 715h1v99h-1zM1359 715h1v96h-1zM1363 715h1v88h-1zM1367 715h1v78h-1zM1371 715h1v59h-1zM1375 715h1v42h-1zM1379 715h1v22h-1zM1383 715h1v6h-1zM1387 709h1v7h-1zM1391 695h1v21h-1zM1395 681h1v35h-1zM1399 668h1v48h-1zM1403 655h1v61h-1zM1407 645h1v71h-1zM1411 638h1v78h-1zM1415 632h1v84h-1zM1419 633h1v83h-1zM1423 640h1v76h-1zM1427 647h1v69h-1zM1431 653h1v63h-1zM1435 656h1v60h-1zM1439 657h1v59h-1zM1443 657h1v59h-1zM1447 653h1v63h-1zM1451 647h1v69h-1zM1455 643h1v73h-1zM1459 642h1v74h-1zM1463 642h1v74h-1zM1467 640h1v76h-1zM1471 640h1v76h-1zM1475 637h1v79h-1zM1479 634h1v82h-1z"/>
<path fill="#000" d="M68 711h2v1h-2zM214 711h4v1h-4zM230 711h4v1h-4zM257 711h2v1h-2zM358 658h3v1h-3zM446 658h3v1h-3zM659 658h2v1h-2zM79 704h2v1h-2zM770 704h4v1h-4zM796 704h2v1h-2zM1108 704h2v1h-2zM560 751h2v1h-2zM580 751h2v1h-2zM1143 737h7v1h-7zM1254 618h4v1h-4zM86 701h3v1h-3zM762 701h3v1h-3zM801 701h2v1h-2zM1074 701h4v1h-4zM1103 701h2v1h-2zM189 714h2v1h-2zM205 714h2v1h-2zM246 714h4v1h-4zM738 694h4v1h-4zM896 694h2v1h-2zM875 684h2v1h-2zM375 651h2v1h-2zM426 651h3v1h-3zM678 651h4v1h-4zM92 698h2v1h-2zM754 698h3v1h-3zM1067 698h2v1h-2zM1087 698h11v1h-11zM116 682h2v1h-2zM156 682h2v1h-2zM872 682h2v1h-2zM385 646h2v1h-2zM410 646h3v1h-3zM1428 646h2v1h-2zM1473 646h2v1h-2zM210 712h4v1h-4zM234 712h8v1h-8zM254 712h3v1h-3zM120 679h2v1h-2zM149 679h2v1h-2zM867 679h2v1h-2zM299 665h3v1h-3zM463 665h3v1h-3zM838 672h15v1h-15zM350 660h4v1h-4zM451 660h3v1h-3zM656 660h2v1h-2zM379 649h2v1h-2zM418 649h4v1h-4zM1451 649h3v1h-3zM1465 649h2v1h-2zM151 680h3v1h-3zM716 680h2v1h-2zM869 680h2v1h-2zM123 677h3v1h-3zM143 677h3v1h-3zM862 677h3v1h-3zM295 667h2v1h-2zM470 667h8v1h-8zM879 686h2v1h-2zM306 663h4v1h-4zM459 663h2v1h-2zM652 663h2v1h-2zM377 650h2v1h-2zM422 650h4v1h-4zM1454 650h11v1h-11zM180 707h2v1h-2zM782 707h11v1h-11zM1112 707h2v1h-2zM1250 617h4v1h-4zM146 678h3v1h-3zM824 678h2v1h-2zM865 678h2v1h-2zM881 687h2v1h-2zM89 700h2v1h-2zM759 700h3v1h-3zM1071 700h3v1h-3zM1078 700h7v1h-7zM1101 700h2v1h-2zM326 661h24v1h-24zM454 661h3v1h-3zM563 753h3v1h-3zM577 753h2v1h-2zM95 696h2v1h-2zM746 696h4v1h-4zM1064 696h2v1h-2zM126 676h4v1h-4zM141 676h2v1h-2zM827 676h2v1h-2zM859 676h3v1h-3zM75 706h2v1h-2zM778 706h4v1h-4zM793 706h2v1h-2zM302 664h4v1h-4zM461 664h2v1h-2zM1132 730h2v1h-2zM130 675h11v1h-11zM829 675h2v1h-2zM857 675h2v1h-2zM954 749h8v1h-8zM478 668h4v1h-4zM498 668h14v1h-14zM1241 613h2v1h-2zM371 653h2v1h-2zM431 653h3v1h-3zM669 653h2v1h-2zM686 653h3v1h-3zM1017 653h2v1h-2zM1025 653h2v1h-2zM943 747h3v1h-3zM964 747h2v1h-2zM154 681h2v1h-2zM105 690h2v1h-2zM728 690h2v1h-2zM890 690h2v1h-2zM1373 795h2v1h-2zM720 683h2v1h-2zM373 652h2v1h-2zM429 652h2v1h-2zM671 652h7v1h-7zM682 652h4v1h-4zM1019 652h6v1h-6zM366 655h3v1h-3zM438 655h3v1h-3zM665 655h2v1h-2zM691 655h2v1h-2zM83 702h3v1h-3zM765 702h2v1h-2zM799 702h2v1h-2zM1105 702h2v1h-2zM297 666h2v1h-2zM466 666h4v1h-4zM648 666h2v1h-2zM363 656h3v1h-3zM441 656h2v1h-2zM663 656h2v1h-2zM693 656h2v1h-2zM354 659h4v1h-4zM449 659h2v1h-2zM1139 735h2v1h-2zM1153 735h2v1h-2zM584 748h2v1h-2zM946 748h8v1h-8zM962 748h2v1h-2zM1258 619h4v1h-4zM1141 736h2v1h-2zM1150 736h3v1h-3zM1219 610h3v1h-3zM1233 610h2v1h-2zM482 669h16v1h-16zM512 669h2v1h-2zM644 669h2v1h-2zM757 699h2v1h-2zM1069 699h2v1h-2zM1085 699h2v1h-2zM1098 699h3v1h-3zM52 726h2v1h-2zM100 693h2v1h-2zM734 693h4v1h-4zM1060 693h2v1h-2zM81 703h2v1h-2zM767 703h3v1h-3zM72 708h2v1h-2zM381 648h2v1h-2zM415 648h3v1h-3zM1449 648h2v1h-2zM1467 648h3v1h-3zM1367 796h6v1h-6zM831 674h3v1h-3zM855 674h2v1h-2zM310 662h16v1h-16zM457 662h2v1h-2zM750 697h4v1h-4zM1238 612h3v1h-3zM108 688h2v1h-2zM883 688h3v1h-3zM1222 609h11v1h-11zM1136 733h2v1h-2zM387 645h3v1h-3zM406 645h4v1h-4zM1444 645h2v1h-2zM1475 645h2v1h-2zM97 695h2v1h-2zM742 695h4v1h-4zM1247 616h3v1h-3zM1434 643h8v1h-8zM361 657h2v1h-2zM443 657h3v1h-3zM661 657h2v1h-2zM1281 631h2v1h-2zM1285 633h2v1h-2zM1277 629h2v1h-2zM1364 794h2v1h-2zM103 691h2v1h-2zM892 691h2v1h-2zM390 644h16v1h-16zM1431 644h3v1h-3zM1442 644h2v1h-2zM1477 644h2v1h-2zM112 685h2v1h-2zM877 685h2v1h-2zM194 716h8v1h-8zM940 745h2v1h-2zM383 647h2v1h-2zM413 647h2v1h-2zM1447 647h2v1h-2zM1470 647h3v1h-3zM43 727h3v1h-3zM50 727h2v1h-2zM56 723h2v1h-2zM731 692h3v1h-3zM218 710h12v1h-12zM187 713h2v1h-2zM207 713h3v1h-3zM242 713h4v1h-4zM250 713h4v1h-4zM46 728h4v1h-4zM886 689h4v1h-4zM834 673h4v1h-4zM853 673h2v1h-2zM1245 615h2v1h-2zM369 654h2v1h-2zM434 654h4v1h-4zM667 654h2v1h-2zM689 654h2v1h-2zM1015 654h2v1h-2zM77 705h2v1h-2zM774 705h4v1h-4zM1289 635h2v1h-2zM1291 636h2v1h-2zM1264 621h2v1h-2zM1287 634h2v1h-2zM566 754h11v1h-11zM191 715h3v1h-3zM202 715h3v1h-3zM1243 614h2v1h-2zM1235 611h3v1h-3zM1269 624h2v1h-2zM1272 626h2v1h-2zM1267 623h2v1h-2zM1293 637h2v1h-2zM1283 632h2v1h-2zM1275 628h2v1h-2zM1279 630h2v1h-2zM1262 620h2v1h-2zM559 750h1v1h-1zM1383 781h1v2h-1zM527 689h1v2h-1zM1033 660h1v1h-1zM1421 655h1v2h-1zM918 719h1v2h-1zM982 721h1v2h-1zM1335 751h1v3h-1zM1193 657h1v3h-1zM531 697h1v3h-1zM19 644h1v5h-1zM1157 732h1v1h-1zM1396 736h1v4h-1zM899 696h1v1h-1zM3 567h1v3h-1zM1328 729h1v4h-1zM260 709h1v1h-1zM991 699h1v3h-1zM40 724h1v1h-1zM13 614h1v5h-1zM1119 714h1v1h-1zM1391 755h1v4h-1zM1318 693h1v4h-1zM610 715h1v2h-1zM1122 718h1v2h-1zM16 629h1v5h-1zM524 683h1v2h-1zM1303 650h1v2h-1zM1401 716h1v4h-1zM1185 677h1v2h-1zM1404 704h1v4h-1zM622 697h1v2h-1zM537 711h1v3h-1zM1331 740h1v3h-1zM935 740h1v1h-1zM1379 789h1v1h-1zM1123 720h1v1h-1zM184 710h1v1h-1zM820 682h1v1h-1zM990 702h1v2h-1zM1201 639h1v2h-1zM26 679h1v5h-1zM936 741h1v1h-1zM173 700h1v1h-1zM1353 781h1v2h-1zM1412 677h1v3h-1zM1408 690h1v3h-1zM12 609h1v5h-1zM917 718h1v1h-1zM1334 748h1v3h-1zM1006 665h1v2h-1zM626 691h1v2h-1zM174 701h1v1h-1zM629 687h1v1h-1zM606 721h1v2h-1zM1129 726h1v2h-1zM1416 666h1v2h-1zM1172 706h1v2h-1zM1066 697h1v1h-1zM284 680h1v1h-1zM1055 688h1v1h-1zM541 721h1v3h-1zM1184 679h1v2h-1zM713 676h1v2h-1zM1310 666h1v3h-1zM1400 720h1v4h-1zM25 675h1v4h-1zM724 686h1v1h-1zM594 738h1v1h-1zM39 722h1v2h-1zM921 724h1v1h-1zM22 660h1v5h-1zM1323 711h1v3h-1zM9 595h1v4h-1zM714 678h1v1h-1zM66 713h1v1h-1zM725 687h1v1h-1zM1200 641h1v2h-1zM6 580h1v5h-1zM276 690h1v2h-1zM974 735h1v2h-1zM1324 714h1v4h-1zM1313 675h1v4h-1zM279 686h1v1h-1zM530 695h1v2h-1zM613 711h1v1h-1zM1176 698h1v2h-1zM1399 724h1v4h-1zM823 679h1v1h-1zM1387 770h1v3h-1zM70 710h1v1h-1zM1213 617h1v1h-1zM165 690h1v2h-1zM36 716h1v2h-1zM906 704h1v1h-1zM1014 655h1v1h-1zM969 742h1v2h-1zM637 677h1v1h-1zM803 700h1v1h-1zM699 661h1v1h-1zM1192 660h1v2h-1zM29 693h1v4h-1zM582 750h1v1h-1zM292 670h1v1h-1zM1317 689h1v4h-1zM166 692h1v1h-1zM1047 679h1v1h-1zM795 705h1v1h-1zM1390 759h1v4h-1zM523 681h1v2h-1zM1302 648h1v2h-1zM705 667h1v2h-1zM985 713h1v3h-1zM1348 774h1v2h-1zM1320 700h1v4h-1zM5 575h1v5h-1zM597 734h1v2h-1zM54 725h1v1h-1zM1048 680h1v1h-1zM15 624h1v5h-1zM706 669h1v1h-1zM32 704h1v3h-1zM1001 675h1v2h-1zM287 676h1v1h-1zM1316 685h1v4h-1zM1395 740h1v3h-1zM1209 623h1v2h-1zM18 639h1v5h-1zM1352 780h1v1h-1zM916 716h1v2h-1zM895 693h1v1h-1zM28 689h1v4h-1zM1191 662h1v3h-1zM898 695h1v1h-1zM712 675h1v1h-1zM1309 664h1v2h-1zM925 729h1v2h-1zM993 694h1v3h-1zM272 696h1v1h-1zM179 706h1v1h-1zM158 683h1v1h-1zM815 687h1v1h-1zM1327 726h1v3h-1zM1216 613h1v1h-1zM1171 708h1v3h-1zM942 746h1v1h-1zM1394 743h1v4h-1zM526 687h1v2h-1zM74 707h1v1h-1zM589 744h1v1h-1zM1407 693h1v3h-1zM698 660h1v1h-1zM989 704h1v2h-1zM8 590h1v5h-1zM998 682h1v2h-1zM1330 736h1v4h-1zM905 702h1v2h-1zM35 713h1v3h-1zM1164 723h1v2h-1zM586 747h1v1h-1zM1411 680h1v3h-1zM719 682h1v1h-1zM11 604h1v5h-1zM932 737h1v1h-1zM264 705h1v1h-1zM519 675h1v1h-1zM21 654h1v6h-1zM1298 642h1v1h-1zM1062 694h1v1h-1zM1326 722h1v4h-1zM1366 795h1v1h-1zM1386 773h1v3h-1zM625 693h1v1h-1zM58 722h1v1h-1zM909 707h1v2h-1zM981 723h1v2h-1zM61 718h1v2h-1zM1299 643h1v1h-1zM1159 730h1v1h-1zM871 681h1v1h-1zM554 745h1v1h-1zM1403 708h1v4h-1zM807 696h1v1h-1zM1028 655h1v1h-1zM997 684h1v3h-1zM920 722h1v2h-1zM275 692h1v1h-1zM609 717h1v1h-1zM555 746h1v1h-1zM1175 700h1v2h-1zM1029 656h1v1h-1zM1212 618h1v2h-1zM968 744h1v1h-1zM1385 776h1v2h-1zM1333 746h1v2h-1zM4 570h1v5h-1zM977 731h1v1h-1zM529 693h1v2h-1zM924 728h1v1h-1zM38 720h1v2h-1zM540 719h1v2h-1zM1424 651h1v1h-1zM930 735h1v1h-1zM1036 663h1v2h-1zM651 664h1v1h-1zM1402 712h1v4h-1zM1363 793h1v1h-1zM525 685h1v2h-1zM616 706h1v2h-1zM1005 667h1v2h-1zM1008 662h1v2h-1zM14 619h1v5h-1zM628 688h1v2h-1zM931 736h1v1h-1zM1415 668h1v3h-1zM518 674h1v1h-1zM1183 681h1v3h-1zM1208 625h1v2h-1zM1199 643h1v3h-1zM810 693h1v1h-1zM1312 672h1v3h-1zM267 701h1v1h-1zM1050 683h1v1h-1zM536 709h1v2h-1zM894 692h1v1h-1zM1382 783h1v2h-1zM600 730h1v2h-1zM937 742h1v1h-1zM1420 657h1v2h-1zM603 726h1v1h-1zM1179 691h1v3h-1zM278 687h1v2h-1zM1125 722h1v1h-1zM1027 654h1v1h-1zM612 712h1v2h-1zM1398 728h1v4h-1zM1354 783h1v1h-1zM919 721h1v1h-1zM1004 669h1v2h-1zM938 743h1v1h-1zM1170 711h1v2h-1zM262 707h1v1h-1zM1355 784h1v1h-1zM1204 632h1v2h-1zM543 726h1v3h-1zM533 702h1v2h-1zM294 668h1v1h-1zM31 701h1v3h-1zM923 727h1v1h-1zM1389 763h1v3h-1zM1361 791h1v1h-1zM24 670h1v5h-1zM1427 647h1v1h-1zM107 689h1v1h-1zM715 679h1v1h-1zM1163 725h1v2h-1zM99 694h1v1h-1zM1322 707h1v4h-1zM1419 659h1v3h-1zM37 718h1v2h-1zM1034 661h1v1h-1zM822 680h1v1h-1zM1362 792h1v1h-1zM1187 672h1v3h-1zM1000 677h1v2h-1zM655 661h1v1h-1zM111 686h1v1h-1zM1114 708h1v1h-1zM1035 662h1v1h-1zM980 725h1v2h-1zM826 677h1v1h-1zM730 691h1v1h-1zM115 683h1v1h-1zM30 697h1v4h-1zM1056 689h1v1h-1zM522 679h1v2h-1zM908 706h1v1h-1zM596 736h1v1h-1zM186 712h1v1h-1zM608 718h1v2h-1zM1301 646h1v2h-1zM168 694h1v1h-1zM1446 646h1v1h-1zM1049 681h1v2h-1zM1406 696h1v4h-1zM286 677h1v1h-1zM1340 762h1v2h-1zM1329 733h1v3h-1zM1124 721h1v1h-1zM17 634h1v5h-1zM1393 747h1v4h-1zM976 732h1v2h-1zM988 706h1v2h-1zM65 714h1v1h-1zM1315 682h1v3h-1zM708 671h1v1h-1zM1397 732h1v4h-1zM175 702h1v1h-1zM1410 683h1v3h-1zM281 683h1v2h-1zM27 684h1v5h-1zM1182 684h1v2h-1zM542 724h1v2h-1zM639 675h1v1h-1zM532 700h1v2h-1zM805 698h1v1h-1zM91 699h1v1h-1zM615 708h1v1h-1zM624 694h1v2h-1zM259 710h1v1h-1zM1057 690h1v1h-1zM1319 697h1v3h-1zM1308 661h1v3h-1zM900 697h1v1h-1zM1414 671h1v3h-1zM636 678h1v1h-1zM60 720h1v1h-1zM1198 646h1v2h-1zM1038 666h1v2h-1zM41 725h1v1h-1zM1210 621h1v2h-1zM160 685h1v1h-1zM901 698h1v1h-1zM987 708h1v3h-1zM996 687h1v2h-1zM539 716h1v3h-1zM1381 785h1v2h-1zM1342 766h1v2h-1zM599 732h1v1h-1zM520 676h1v2h-1zM1042 672h1v2h-1zM1169 713h1v2h-1zM119 680h1v1h-1zM1409 686h1v4h-1zM1181 686h1v3h-1zM1203 634h1v3h-1zM1190 665h1v2h-1zM289 673h1v2h-1zM1343 768h1v1h-1zM707 670h1v1h-1zM521 678h1v1h-1zM10 599h1v5h-1zM1384 778h1v3h-1zM1413 674h1v3h-1zM20 649h1v5h-1zM1158 731h1v1h-1zM591 742h1v1h-1zM1325 718h1v4h-1zM1206 628h1v2h-1zM1300 644h1v2h-1zM1388 766h1v4h-1zM1174 702h1v2h-1zM817 685h1v1h-1zM535 706h1v3h-1zM23 665h1v5h-1zM1218 611h1v1h-1zM33 707h1v3h-1zM995 689h1v3h-1zM642 671h1v1h-1zM1392 751h1v4h-1zM7 585h1v5h-1zM1418 662h1v2h-1zM1165 721h1v2h-1zM922 725h1v2h-1zM1405 700h1v4h-1zM999 679h1v3h-1zM1189 667h1v3h-1zM1358 788h1v1h-1zM646 668h1v1h-1zM726 688h1v1h-1zM812 691h1v1h-1zM588 745h1v1h-1zM1332 743h1v3h-1zM926 731h1v1h-1zM557 748h1v1h-1zM269 699h1v1h-1zM1205 630h1v2h-1zM63 716h1v1h-1zM1037 665h1v1h-1zM1003 671h1v2h-1zM700 662h1v1h-1zM1161 728h1v1h-1zM167 693h1v1h-1zM809 694h1v1h-1zM1011 658h1v1h-1zM631 684h1v1h-1zM634 680h1v1h-1zM1339 760h1v2h-1zM933 738h1v1h-1zM34 710h1v3h-1zM1063 695h1v1h-1zM546 733h1v2h-1zM277 689h1v1h-1zM611 714h1v1h-1zM967 745h1v1h-1zM911 710h1v1h-1zM979 727h1v2h-1zM618 703h1v2h-1zM1357 786h1v2h-1zM159 684h1v1h-1zM1426 648h1v1h-1zM650 665h1v1h-1zM556 747h1v1h-1zM1030 657h1v1h-1zM1274 627h1v1h-1zM1314 679h1v3h-1zM285 678h1v2h-1zM654 662h1v1h-1zM1307 658h1v3h-1zM602 727h1v2h-1zM1041 671h1v1h-1zM1116 710h1v1h-1zM1045 676h1v2h-1zM910 709h1v1h-1zM641 672h1v2h-1zM1138 734h1v1h-1zM1338 758h1v2h-1zM970 741h1v1h-1zM261 708h1v1h-1zM534 704h1v2h-1zM170 697h1v1h-1zM1051 684h1v1h-1zM1188 670h1v2h-1zM1346 772h1v1h-1zM1321 704h1v3h-1zM1197 648h1v2h-1zM1311 669h1v3h-1zM545 731h1v2h-1zM1052 685h1v1h-1zM1156 733h1v1h-1zM55 724h1v1h-1zM1168 715h1v2h-1zM1180 689h1v2h-1zM110 687h1v1h-1zM1202 637h1v2h-1zM1266 622h1v1h-1zM177 704h1v1h-1zM1058 691h1v1h-1zM1007 664h1v1h-1zM1375 794h1v1h-1zM630 685h1v2h-1zM1040 669h1v2h-1zM1173 704h1v2h-1zM1059 692h1v1h-1zM288 675h1v1h-1zM169 695h1v2h-1zM1341 764h1v2h-1zM1115 709h1v1h-1zM1417 664h1v2h-1zM903 700h1v1h-1zM67 712h1v1h-1zM538 714h1v2h-1zM1345 770h1v2h-1zM978 729h1v2h-1zM280 685h1v1h-1zM590 743h1v1h-1zM994 692h1v2h-1zM548 736h1v2h-1zM614 709h1v2h-1zM1126 723h1v1h-1zM579 752h1v1h-1zM1217 612h1v1h-1zM973 737h1v1h-1zM939 744h1v1h-1zM638 676h1v1h-1zM804 699h1v1h-1zM544 729h1v2h-1zM1356 785h1v1h-1zM986 711h1v2h-1zM621 699h1v1h-1zM1010 659h1v2h-1zM1013 656h1v1h-1zM695 657h1v1h-1zM633 681h1v2h-1zM1002 673h1v2h-1zM598 733h1v1h-1zM291 671h1v1h-1zM1160 729h1v1h-1zM928 733h1v1h-1zM593 739h1v2h-1zM1378 790h1v1h-1zM1039 668h1v1h-1zM42 726h1v1h-1zM819 683h1v1h-1zM605 723h1v1h-1zM902 699h1v1h-1zM562 752h1v1h-1zM1196 650h1v2h-1zM283 681h1v1h-1zM816 686h1v1h-1zM1337 756h1v2h-1zM913 712h1v2h-1zM1167 717h1v2h-1zM709 672h1v1h-1zM811 692h1v1h-1zM176 703h1v1h-1zM268 700h1v1h-1zM1110 705h1v1h-1zM62 717h1v1h-1zM1111 706h1v1h-1zM1359 789h1v1h-1zM727 689h1v1h-1zM515 671h1v1h-1zM161 686h1v1h-1zM558 749h1v1h-1zM601 729h1v1h-1zM162 687h1v1h-1zM1117 711h1v2h-1zM1043 674h1v1h-1zM1306 656h1v2h-1zM701 663h1v1h-1zM1344 769h1v1h-1zM1118 713h1v1h-1zM702 664h1v1h-1zM271 697h1v1h-1zM274 693h1v1h-1zM617 705h1v1h-1zM620 700h1v2h-1zM912 711h1v1h-1zM1195 652h1v3h-1zM1295 638h1v1h-1zM547 735h1v1h-1zM1155 734h1v1h-1zM172 699h1v1h-1zM814 688h1v1h-1zM1215 614h1v1h-1zM1423 652h1v1h-1zM551 741h1v1h-1zM1054 687h1v1h-1zM927 732h1v1h-1zM604 724h1v2h-1zM514 670h1v1h-1zM798 703h1v1h-1zM972 738h1v2h-1zM263 706h1v1h-1zM1032 659h1v1h-1zM640 674h1v1h-1zM182 708h1v1h-1zM1305 654h1v2h-1zM934 739h1v1h-1zM183 709h1v1h-1zM992 697h1v2h-1zM1046 678h1v1h-1zM550 739h1v2h-1zM1336 754h1v2h-1zM293 669h1v1h-1zM1107 703h1v1h-1zM1347 773h1v1h-1zM1186 675h1v2h-1zM1271 625h1v1h-1zM1377 791h1v2h-1zM1162 727h1v1h-1zM1380 787h1v2h-1zM821 681h1v1h-1zM1053 686h1v1h-1zM1009 661h1v1h-1zM1430 645h1v1h-1zM984 716h1v2h-1zM1031 658h1v1h-1zM632 683h1v1h-1zM874 683h1v1h-1zM1178 694h1v2h-1zM266 702h1v1h-1zM658 659h1v1h-1zM627 690h1v1h-1zM1166 719h1v2h-1zM592 741h1v1h-1zM1207 627h1v1h-1zM282 682h1v1h-1zM806 697h1v1h-1zM983 718h1v3h-1zM1120 715h1v2h-1zM975 734h1v1h-1zM1304 652h1v2h-1zM904 701h1v1h-1zM64 715h1v1h-1zM171 698h1v1h-1zM1121 717h1v1h-1zM1214 615h1v2h-1zM1211 620h1v1h-1zM1350 777h1v2h-1zM1297 640h1v2h-1zM549 738h1v1h-1zM1127 724h1v1h-1zM623 696h1v1h-1zM1351 779h1v1h-1zM1012 657h1v1h-1zM722 684h1v1h-1zM102 692h1v1h-1zM290 672h1v1h-1zM1128 725h1v1h-1zM94 697h1v1h-1zM114 684h1v1h-1zM711 674h1v1h-1zM723 685h1v1h-1zM595 737h1v1h-1zM178 705h1v1h-1zM818 684h1v1h-1zM273 694h1v2h-1zM696 658h1v1h-1zM607 720h1v1h-1zM118 681h1v1h-1zM1134 731h1v1h-1zM643 670h1v1h-1zM528 691h1v2h-1zM697 659h1v1h-1zM1135 732h1v1h-1zM647 667h1v1h-1zM813 689h1v2h-1zM71 709h1v1h-1zM1422 653h1v2h-1zM1425 649h1v2h-1zM1194 655h1v2h-1zM270 698h1v1h-1zM164 689h1v1h-1zM583 749h1v1h-1zM703 665h1v1h-1zM914 714h1v1h-1zM704 666h1v1h-1zM587 746h1v1h-1zM553 743h1v2h-1zM1177 696h1v2h-1zM265 703h1v2h-1zM710 673h1v1h-1zM915 715h1v1h-1zM635 679h1v1h-1zM59 721h1v1h-1zM122 678h1v1h-1zM971 740h1v1h-1zM929 734h1v1h-1zM516 672h1v1h-1zM517 673h1v1h-1zM163 688h1v1h-1zM1044 675h1v1h-1zM619 702h1v1h-1zM718 681h1v1h-1zM966 746h1v1h-1zM1296 639h1v1h-1zM907 705h1v1h-1zM185 711h1v1h-1zM1376 793h1v1h-1zM1349 776h1v1h-1zM552 742h1v1h-1zM1130 728h1v1h-1zM808 695h1v1h-1zM1479 643h1v1h-1zM1131 729h1v1h-1zM1360 790h1v1h-1z"/>
</g>
<path fill="#000" d="M2 2h1488v1h-1488zM2 551h1488v1h-1488zM2 2h1v550h-1zM1489 2h1v550h-1zM2 553h1488v1h-1488zM2 826h1489v1h-1489zM2 553h1v274h-1zM1489 553h1v274h-1zM1490 42h2v1h-2zM1490 91h2v1h-2zM1490 140h2v1h-2zM1490 189h2v1h-2zM1490 238h2v1h-2zM1490 287h2v1h-2zM1490 336h2v1h-2zM1490 385h2v1h-2zM1490 434h2v1h-2zM1490 483h2v1h-2zM1490 532h2v1h-2zM1490 555h2v1h-2zM1490 715h2v1h-2zM3 827h1v3h-1zM99 827h1v3h-1zM195 827h1v3h-1zM291 827h1v3h-1zM387 827h1v3h-1zM483 827h1v3h-1zM579 827h1v3h-1zM675 827h1v3h-1zM771 827h1v3h-1zM867 827h1v3h-1zM963 827h1v3h-1zM1059 827h1v3h-1zM1155 827h1v3h-1zM1251 827h1v3h-1zM1347 827h1v3h-1zM1443 827h1v3h-1z"/>
<rect x="1491" y="24" width="63" height="14" fill="#000"/>
<rect x="1491" y="45" width="63" height="14" fill="#f00"/>
<rect x="1491" y="93" width="63" height="14" fill="#f00"/>
<path fill="#000" d="M6 10h9l-4.5 5z"/>
</g>
<g>
<text y="17" id="t_title"><tspan x="20.4" style="letter-spacing:-0.6px">NQ,H4</tspan><tspan x="64.8">13678.19</tspan><tspan x="121.8">13679.99</tspan><tspan x="179">13675.49</tspan><tspan x="236.3">13678.19</tspan></text>
<text y="569" id="t_macd"><tspan x="6.6" style="letter-spacing:-0.13px">MACD(12,26,9)</tspan><tspan x="95.8">91.097</tspan><tspan x="138.9">82.223</tspan><tspan x="185.9" style="letter-spacing:0.12px">-&gt;MA(1)</tspan><tspan x="237.7">91.097</tspan></text>
<text x="1496.2" y="47" style="font-size:12.6px">13629.00</text>
<text x="1496.2" y="96" style="font-size:12.6px">13420.75</text>
<text x="1496.2" y="145" style="font-size:12.6px">13208.25</text>
<text x="1496.2" y="194" style="font-size:12.6px">13000.00</text>
<text x="1496.2" y="243" style="font-size:12.6px">12787.75</text>
<text x="1496.2" y="292" style="font-size:12.6px">12575.00</text>
<text x="1496.2" y="341" style="font-size:12.6px">12366.75</text>
<text x="1496.2" y="390" style="font-size:12.6px">12154.25</text>
<text x="1496.2" y="439" style="font-size:12.6px">11946.00</text>
<text x="1496.2" y="488" style="font-size:12.6px">11733.50</text>
<text x="1496.2" y="537" style="font-size:12.6px">11525.25</text>
<rect x="1491" y="24" width="63" height="14" fill="#000" shape-rendering="crispEdges"/>
<rect x="1491" y="45" width="63" height="14" fill="#f00" shape-rendering="crispEdges"/>
<rect x="1491" y="93" width="63" height="14" fill="#f00" shape-rendering="crispEdges"/>
<text x="1496.2" style="font-size:12.6px" y="36" class="w" id="t_box">13678.19</text>
<text x="1496.2" style="font-size:12.6px" y="57" class="w">13591.83</text>
<text x="1496.2" style="font-size:12.6px" y="105" class="w">13386.54</text>
<text x="1493" y="567" id="t_m1">180.944</text>
<text x="1493" y="720">0.00</text>
<text x="1493" y="823">-124.516</text>
<text x="2" y="842" style="letter-spacing:-0.1px" id="t_d0">10 Nov 2020</text>
<text x="98" y="842" style="letter-spacing:-0.1px">16 Nov 08:00</text>
<text x="194" y="842" style="letter-spacing:-0.1px">20 Nov 08:00</text>
<text x="290" y="842" style="letter-spacing:-0.1px">26 Nov 08:00</text>
<text x="386" y="842" style="letter-spacing:-0.1px">2 Dec 12:00</text>
<text x="482" y="842" style="letter-spacing:-0.1px">8 Dec 12:00</text>
<text x="578" y="842" style="letter-spacing:-0.1px">14 Dec 12:00</text>
<text x="674" y="842" style="letter-spacing:-0.1px">18 Dec 12:00</text>
<text x="770" y="842" style="letter-spacing:-0.1px">24 Dec 12:00</text>
<text x="866" y="842" style="letter-spacing:-0.1px">31 Dec 12:00</text>
<text x="962" y="842" style="letter-spacing:-0.1px">7 Jan 12:00</text>
<text x="1058" y="842" style="letter-spacing:-0.1px">13 Jan 12:00</text>
<text x="1154" y="842" style="letter-spacing:-0.1px">19 Jan 16:00</text>
<text x="1250" y="842" style="letter-spacing:-0.1px">25 Jan 16:00</text>
<text x="1346" y="842" style="letter-spacing:-0.1px">29 Jan 16:00</text>
<text x="1442" y="842" style="letter-spacing:-0.1px">4 Feb 16:00</text>
</g>
</svg></body></html>
